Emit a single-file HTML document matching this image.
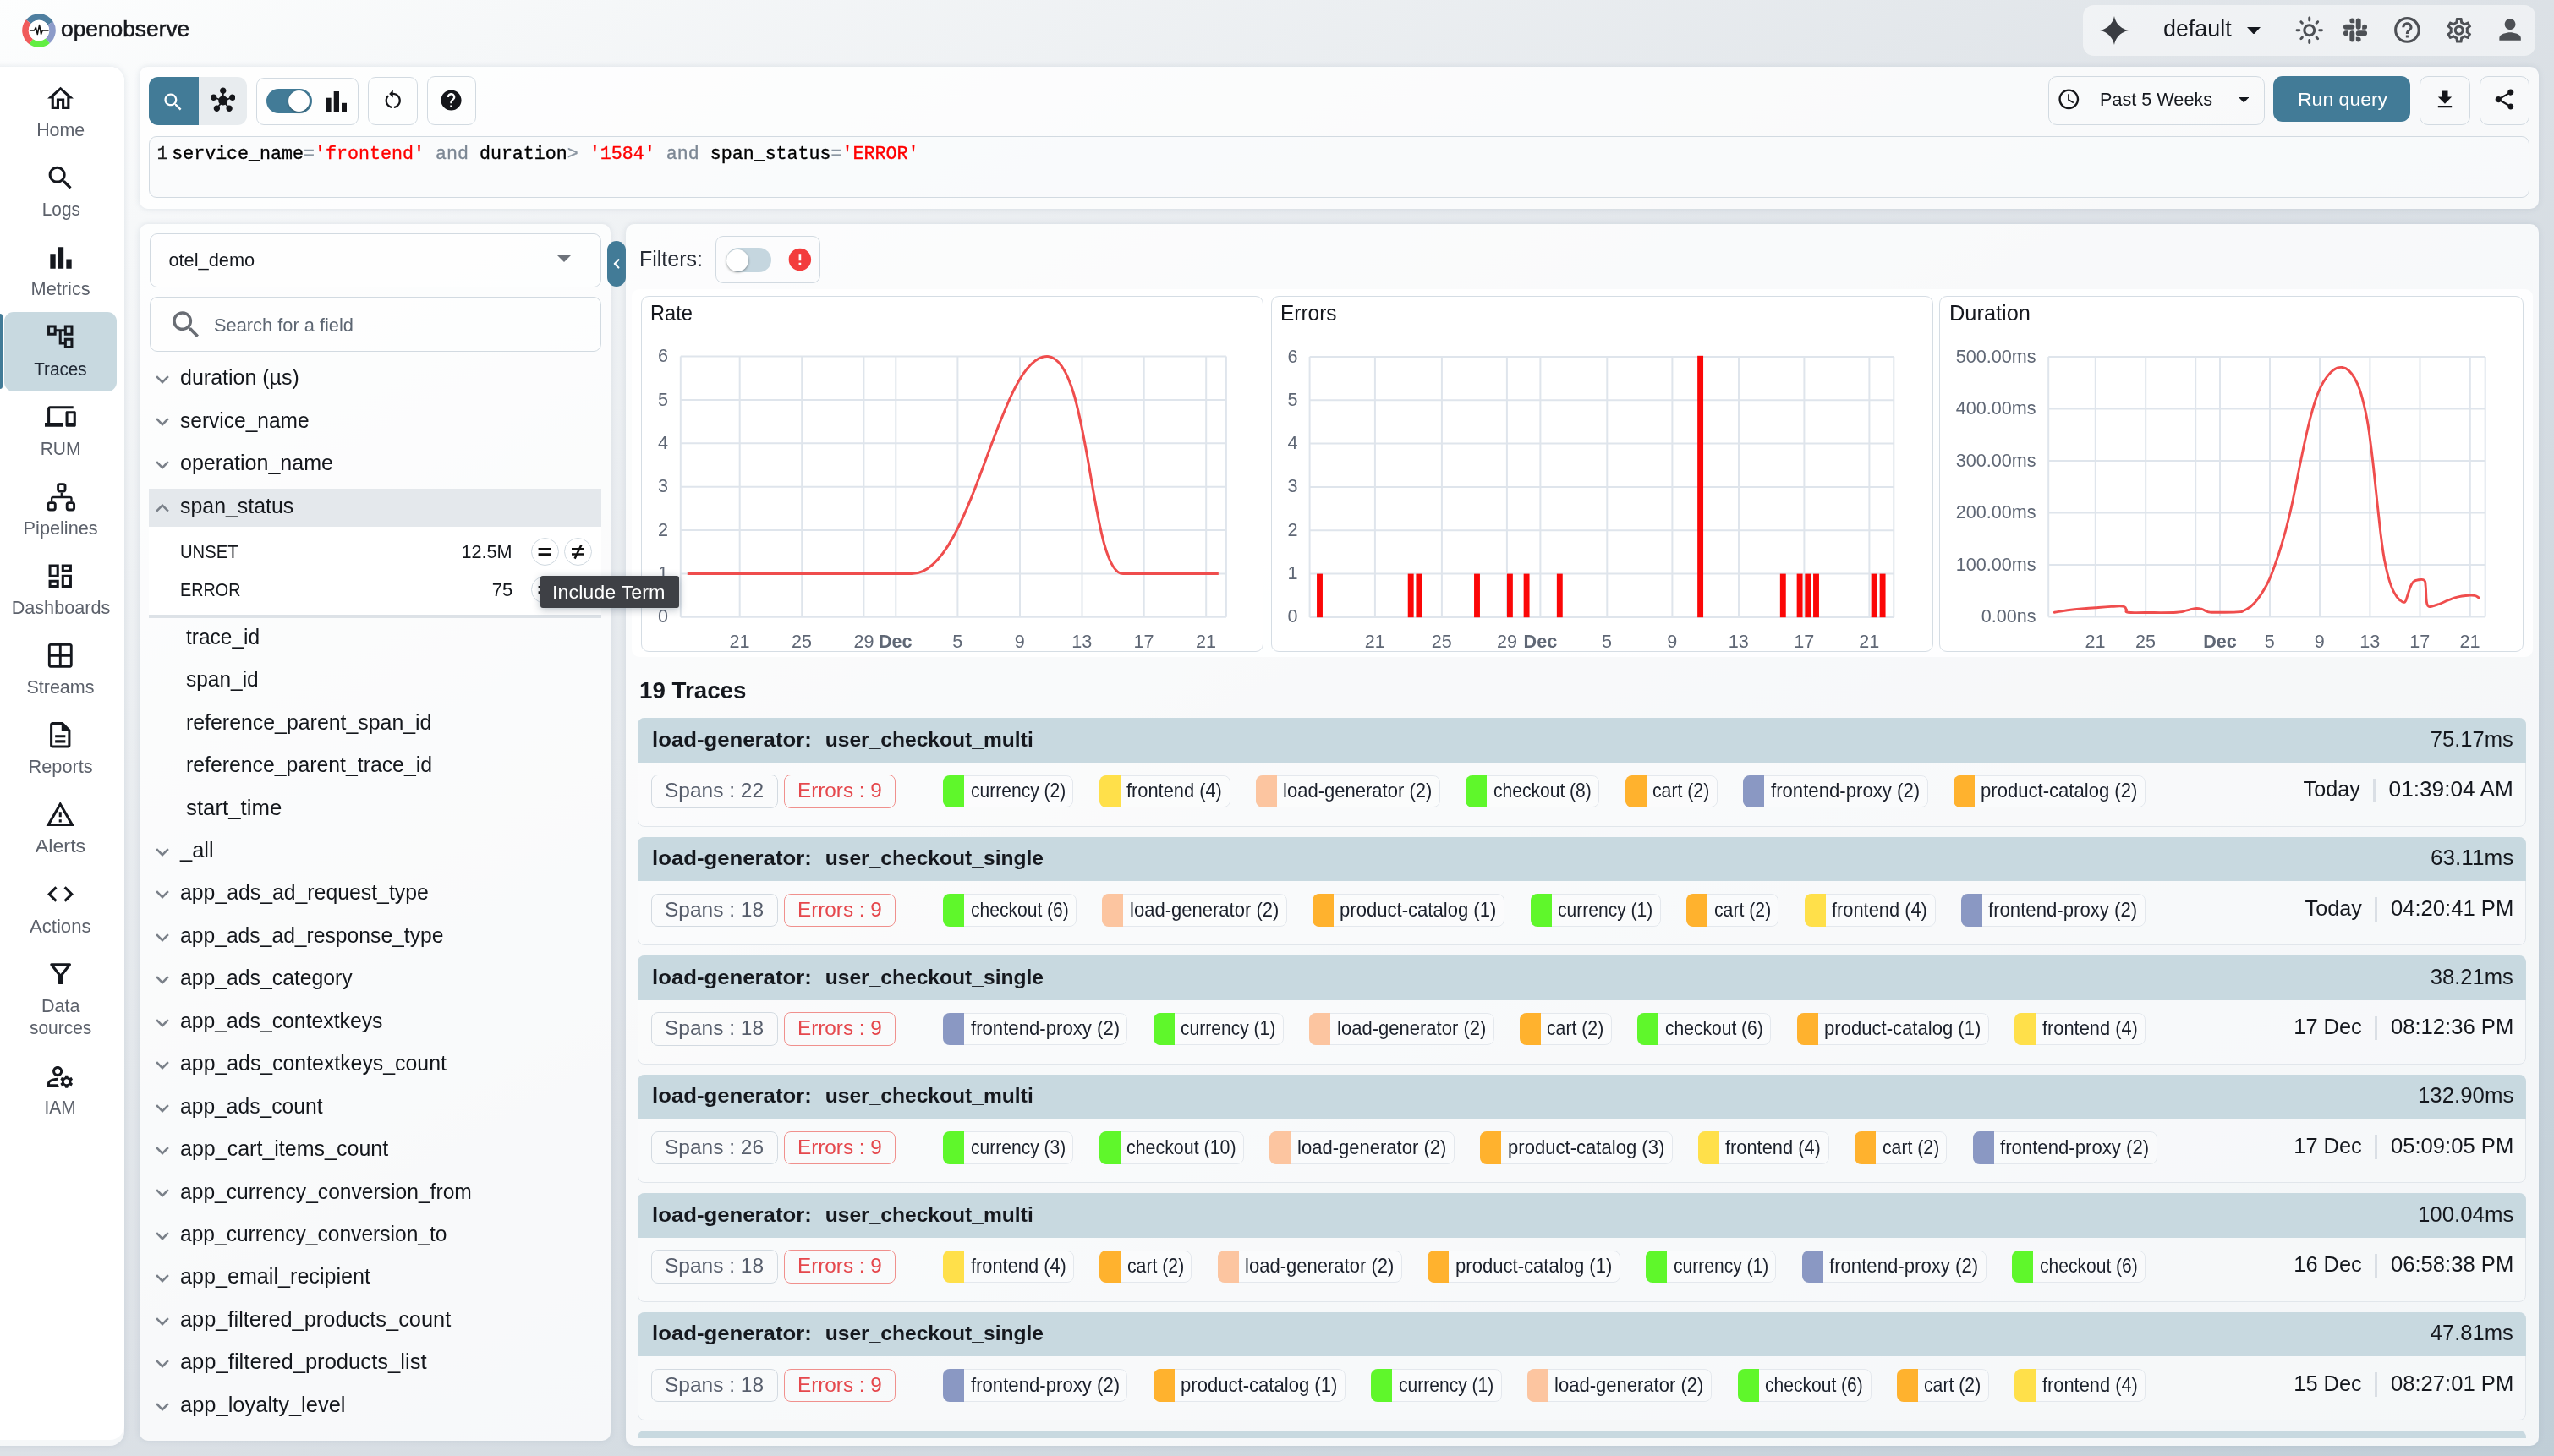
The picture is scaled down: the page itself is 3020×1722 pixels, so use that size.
<!DOCTYPE html>
<html lang="en"><head><meta charset="utf-8"><title>OpenObserve - Traces</title>
<style>
html,body{margin:0;padding:0}
body{width:3020px;height:1722px;overflow:hidden;position:relative;font-family:"Liberation Sans",sans-serif;
background:linear-gradient(to bottom right,#fdfefe 0%,#dce1e6 50%,#c0ced7 100%);}
div,svg,span.t{position:absolute;box-sizing:border-box}
span.t{white-space:pre;line-height:1;display:block}
.panel{background:rgba(255,255,255,.8);border-radius:10px;box-shadow:0 0 7px rgba(120,140,160,.2)}
.ob{border:1px solid #d2dae1;border-radius:9px}
@media (max-width:1600px){body{width:1510px;height:861px}#app{transform:scale(.5);transform-origin:0 0}}
</style></head><body>
<div id="app" style="left:0;top:0;width:3020px;height:1722px;will-change:transform">
<svg style="left:25.80px;top:15.80px;" width="40.00" height="40.00" viewBox="0 0 40 40"><path d="M4.83,7.27 A19.8,19.8 0 0 1 36.79,9.51 L30.35,13.53 A12.2,12.2 0 0 0 10.65,12.16 Z" fill="#4f7fa0"/><path d="M36.79,9.51 A19.8,19.8 0 0 1 32.73,35.17 L27.84,29.35 A12.2,12.2 0 0 0 30.35,13.53 Z" fill="#8c9bc9"/><path d="M32.73,35.17 A19.8,19.8 0 0 1 8.64,36.22 L13.00,29.99 A12.2,12.2 0 0 0 27.84,29.35 Z" fill="#62ee42"/><path d="M8.64,36.22 A19.8,19.8 0 0 1 4.83,7.27 L10.65,12.16 A12.2,12.2 0 0 0 13.00,29.99 Z" fill="#f05b5b"/><circle cx="20" cy="20" r="12.2" fill="#fff"/><path d="M9.5,20 H14.5 L16.3,16.2 L18.3,24.5 L20.6,13.5 L22.6,24.5 L24.2,20 H31" fill="none" stroke="#111" stroke-width="1.5" stroke-linejoin="round" stroke-linecap="round"/></svg>
<span class="t" style="font-size:25.6px;color:#16181d;top:22.00px;left:72.40px;transform-origin:0 0;transform:scaleX(1.0286);-webkit-text-stroke:0.6px #16181d;">openobserve</span>
<div style="left:2463.00px;top:6.00px;width:535.00px;height:60.00px;background:rgba(255,255,255,.5);border-radius:13px;"></div>
<svg style="left:2482.50px;top:18.90px;" width="34.00" height="34.00" viewBox="0 0 24 24"><path d="M12 0C13.2 6.27 17.73 10.8 24 12 17.73 13.2 13.2 17.73 12 24 10.8 17.73 6.27 13.2 0 12 6.27 10.8 10.8 6.27 12 0z" fill="#3a3d42"/></svg>
<span class="t" style="font-size:27.5px;color:#15181e;top:20.00px;left:2557.60px;transform-origin:0 0;transform:scaleX(0.9766);">default</span>
<svg style="left:2657.00px;top:31.60px;" width="16.00" height="8.60"><path d="M0,0 H16 L8,8.6 Z" fill="#15181e"/></svg>
<svg style="left:2712.95px;top:17.95px;" width="35.50" height="35.50" viewBox="0 0 24 24"><path d="M12 9c1.65 0 3 1.35 3 3s-1.35 3-3 3-3-1.35-3-3 1.35-3 3-3m0-2c-2.76 0-5 2.24-5 5s2.24 5 5 5 5-2.24 5-5-2.24-5-5-5zM2 13h2c.55 0 1-.45 1-1s-.45-1-1-1H2c-.55 0-1 .45-1 1s.45 1 1 1zm18 0h2c.55 0 1-.45 1-1s-.45-1-1-1h-2c-.55 0-1 .45-1 1s.45 1 1 1zM11 2v2c0 .55.45 1 1 1s1-.45 1-1V2c0-.55-.45-1-1-1s-1 .45-1 1zm0 18v2c0 .55.45 1 1 1s1-.45 1-1v-2c0-.55-.45-1-1-1s-1 .45-1 1zM5.99 4.58c-.39-.39-1.03-.39-1.41 0-.39.39-.39 1.03 0 1.41l1.06 1.06c.39.39 1.03.39 1.41 0s.39-1.03 0-1.41L5.99 4.58zm12.37 12.37c-.39-.39-1.03-.39-1.41 0-.39.39-.39 1.03 0 1.41l1.06 1.06c.39.39 1.03.39 1.41 0 .39-.39.39-1.03 0-1.41l-1.06-1.06zm1.06-10.96c.39-.39.39-1.03 0-1.41-.39-.39-1.03-.39-1.41 0l-1.06 1.06c-.39.39-.39 1.03 0 1.41s1.03.39 1.41 0l1.06-1.06zM7.05 18.36c.39-.39.39-1.03 0-1.41-.39-.39-1.03-.39-1.41 0l-1.06 1.06c-.39.39-.39 1.03 0 1.41s1.03.39 1.41 0l1.06-1.06z" fill="#4d5055"/></svg>
<svg style="left:2768.15px;top:17.15px;" width="35.50" height="35.50" viewBox="0 0 24 24"><path d="M6 15a2 2 0 0 1-2 2a2 2 0 0 1-2-2a2 2 0 0 1 2-2h2v2zm1 0a2 2 0 0 1 2-2a2 2 0 0 1 2 2v5a2 2 0 0 1-2 2a2 2 0 0 1-2-2v-5zm2-8a2 2 0 0 1-2-2a2 2 0 0 1 2-2a2 2 0 0 1 2 2v2H9zm0 1a2 2 0 0 1 2 2a2 2 0 0 1-2 2H4a2 2 0 0 1-2-2a2 2 0 0 1 2-2h5zm8 2a2 2 0 0 1 2-2a2 2 0 0 1 2 2a2 2 0 0 1-2 2h-2v-2zm-1 0a2 2 0 0 1-2 2a2 2 0 0 1-2-2V5a2 2 0 0 1 2-2a2 2 0 0 1 2 2v5zm-2 8a2 2 0 0 1 2 2a2 2 0 0 1-2 2a2 2 0 0 1-2-2v-2h2zm0-1a2 2 0 0 1-2-2a2 2 0 0 1 2-2h5a2 2 0 0 1 2 2a2 2 0 0 1-2 2h-5z" fill="#4d5055"/></svg>
<svg style="left:2828.30px;top:16.80px;" width="36.80" height="36.80" viewBox="0 0 24 24"><path d="M11 18h2v-2h-2v2zm1-16C6.48 2 2 6.48 2 12s4.48 10 10 10 10-4.48 10-10S17.52 2 12 2zm0 18c-4.41 0-8-3.59-8-8s3.59-8 8-8 8 3.59 8 8-3.59 8-8 8zm0-14c-2.21 0-4 1.79-4 4h2c0-1.1.9-2 2-2s2 .9 2 2c0 2-3 1.75-3 5h2c0-2.25 3-2.5 3-5 0-2.21-1.79-4-4-4z" fill="#4d5055"/></svg>
<svg style="left:2890.05px;top:18.25px;" width="35.50" height="35.50" viewBox="0 0 24 24"><path d="M19.43 12.98c.04-.32.07-.64.07-.98 0-.34-.03-.66-.07-.98l2.11-1.65c.19-.15.24-.42.12-.64l-2-3.46c-.09-.16-.26-.25-.44-.25-.06 0-.12.01-.17.03l-2.49 1c-.52-.4-1.08-.73-1.69-.98l-.38-2.65C14.46 2.18 14.25 2 14 2h-4c-.25 0-.46.18-.49.42l-.38 2.65c-.61.25-1.17.59-1.69.98l-2.49-1c-.06-.02-.12-.03-.18-.03-.17 0-.34.09-.43.25l-2 3.46c-.13.22-.07.49.12.64l2.11 1.65c-.04.32-.07.65-.07.98 0 .33.03.66.07.98l-2.11 1.65c-.19.15-.24.42-.12.64l2 3.46c.09.16.26.25.44.25.06 0 .12-.01.17-.03l2.49-1c.52.4 1.08.73 1.69.98l.38 2.65c.03.24.24.42.49.42h4c.25 0 .46-.18.49-.42l.38-2.65c.61-.25 1.17-.59 1.69-.98l2.49 1c.06.02.12.03.18.03.17 0 .34-.09.43-.25l2-3.46c.12-.22.07-.49-.12-.64l-2.11-1.65zm-1.98-1.71c.04.31.05.52.05.73 0 .21-.02.43-.05.73l-.14 1.13.89.7 1.08.84-.7 1.21-1.27-.51-1.04-.42-.9.68c-.43.32-.84.56-1.25.73l-1.06.43-.16 1.13-.2 1.35h-1.4l-.19-1.35-.16-1.13-1.06-.43c-.43-.18-.83-.41-1.23-.71l-.91-.7-1.06.43-1.27.51-.7-1.21 1.08-.84.89-.7-.14-1.13c-.03-.31-.05-.54-.05-.74s.02-.43.05-.73l.14-1.13-.89-.7-1.08-.84.7-1.21 1.27.51 1.04.42.9-.68c.43-.32.84-.56 1.25-.73l1.06-.43.16-1.13.2-1.35h1.39l.19 1.35.16 1.13 1.06.43c.43.18.83.41 1.23.71l.91.7 1.06-.43 1.27-.51.7 1.21-1.07.85-.89.7.14 1.13zM12 8c-2.21 0-4 1.79-4 4s1.79 4 4 4 4-1.790 4-4-1.790-4-4-4zm0 6c-1.100 0-2-.9-2-2s.9-2 2-2 2 .9 2 2-.9 2-2 2z" fill="#4d5055"/></svg>
<svg style="left:2949.40px;top:16.20px;" width="38.20" height="38.20" viewBox="0 0 24 24"><path d="M12 12c2.21 0 4-1.79 4-4s-1.79-4-4-4-4 1.79-4 4 1.79 4 4 4zm0 2c-2.67 0-8 1.34-8 4v2h16v-2c0-2.66-5.33-4-8-4z" fill="#4d5055"/></svg>
<div class="panel" style="left:-20.00px;top:79.00px;width:167.00px;height:1631.00px;border-radius:0 17px 17px 0;background:rgba(255,255,255,.72);"></div>
<div style="left:-20.00px;top:79.00px;width:167.00px;height:1624.00px;border-radius:0 17px 17px 0;background:#fff;"></div>
<div style="left:5.00px;top:369.00px;width:133.00px;height:94.00px;background:#c8d9e0;border-radius:11px;"></div>
<div style="left:0.00px;top:371.00px;width:3.00px;height:89.00px;background:#427b97;border-radius:0 3px 3px 0;"></div>
<svg style="left:53.15px;top:97.65px;" width="37.10" height="37.10" viewBox="0 0 24 24"><path d="M12 5.69l5 4.5V18h-2v-6H9v6H7v-7.81l5-4.5M12 3L2 12h3v8h6v-6h2v6h6v-8h3L12 3z" fill="#15181e"/></svg>
<span class="t" style="font-size:21.5px;color:#5c616b;top:144.00px;left:43.25px;transform-origin:50% 0;transform:scaleX(0.9947);">Home</span>
<svg style="left:53.00px;top:191.85px;" width="37.00" height="37.00" viewBox="0 0 24 24"><path d="M15.5 14h-.79l-.28-.27C15.41 12.59 16 11.11 16 9.5 16 5.91 13.09 3 9.5 3S3 5.91 3 9.5 5.91 16 9.5 16c1.61 0 3.09-.59 4.23-1.57l.27.28v.79l5 4.99L20.49 19l-4.99-5zm-6 0C7.01 14 5 11.99 5 9.5S7.01 5 9.5 5 14 7.01 14 9.5 11.99 14 9.5 14z" fill="#15181e"/></svg>
<span class="t" style="font-size:21.5px;color:#5c616b;top:238.00px;left:48.72px;transform-origin:50% 0;transform:scaleX(0.9667);">Logs</span>
<svg style="left:52.70px;top:285.50px;" width="38.00" height="38.00" viewBox="0 0 24 24"><path d="M4 9h4v11H4zm12 4h4v7h-4zm-6-9h4v16h-4z" fill="#15181e"/></svg>
<span class="t" style="font-size:21.5px;color:#5c616b;top:332.00px;left:36.79px;transform-origin:50% 0;transform:scaleX(1.0140);">Metrics</span>
<svg style="left:53.45px;top:380.40px;" width="36.50" height="36.50" viewBox="0 0 24 24"><path d="M22 11V3h-7v3H9V3H2v8h7V8h2v10h4v3h7v-8h-7v3h-2V8h2v3h7zM7 9H4V5h3v4zm10 6h3v4h-3v-4zm0-10h3v4h-3V5z" fill="#15181e"/></svg>
<span class="t" style="font-size:21.5px;color:#1f2733;top:427.00px;left:38.99px;transform-origin:50% 0;transform:scaleX(0.9626);">Traces</span>
<svg style="left:53.30px;top:474.40px;" width="36.80" height="36.80" viewBox="0 0 24 24"><path d="M4 6h18V4H4c-1.1 0-2 .9-2 2v11H0v3h14v-3H4V6zm19 2h-6c-.55 0-1 .45-1 1v10c0 .55.45 1 1 1h6c.55 0 1-.45 1-1V9c0-.55-.45-1-1-1zm-1 9h-4v-7h4v7z" fill="#15181e"/></svg>
<span class="t" style="font-size:21.5px;color:#5c616b;top:521.00px;left:46.94px;transform-origin:50% 0;transform:scaleX(0.9732);">RUM</span>
<svg style="left:52.00px;top:568.00px;" width="40.00" height="40.00"><g fill="none" stroke="#15181e"><rect x="16.6" y="4.6" width="8.4" height="8.4" rx="2.2" stroke-width="2.9"/><rect x="4.9" y="26.6" width="8.4" height="8.4" rx="2.2" stroke-width="2.9"/><rect x="27.2" y="26.6" width="8.4" height="8.4" rx="2.2" stroke-width="2.9"/><path d="M20.8,14.4 V20 M9.1,25.4 V21.8 Q9.1,20 10.9,20 H30.7 Q32.500,20 32.500,21.800 V25.400" stroke-width="2.3"/></g></svg>
<span class="t" style="font-size:21.5px;color:#5c616b;top:615.00px;left:27.80px;transform-origin:50% 0;transform:scaleX(1.0093);">Pipelines</span>
<svg style="left:53.45px;top:662.85px;" width="36.50" height="36.50" viewBox="0 0 24 24"><path d="M19 5v2h-4V5h4M9 5v6H5V5h4m10 8v6h-4v-6h4M9 17v2H5v-2h4M21 3h-8v6h8V3zM11 3H3v10h8V3zm10 8h-8v10h8V11zm-10 4H3v6h8v-6z" fill="#15181e"/></svg>
<span class="t" style="font-size:21.5px;color:#5c616b;top:709.00px;left:13.76px;transform-origin:50% 0;transform:scaleX(1.0062);">Dashboards</span>
<svg style="left:54.40px;top:757.95px;" width="34.60" height="34.60" viewBox="0 0 24 24"><path d="M20 2H4c-1.1 0-2 .9-2 2v16c0 1.1.9 2 2 2h16c1.1 0 2-.9 2-2V4c0-1.1-.9-2-2-2zm0 9h-7V4h7v7zm-9-7v7H4V4h7zm-7 9h7v7H4v-7zm9 7v-7h7v7h-7z" fill="#15181e"/></svg>
<span class="t" style="font-size:21.5px;color:#5c616b;top:803.00px;left:31.41px;transform-origin:50% 0;">Streams</span>
<svg style="left:53.45px;top:851.15px;" width="36.50" height="36.50" viewBox="0 0 24 24"><path d="M8 16h8v2H8zm0-4h8v2H8zm6-10H6c-1.1 0-2 .9-2 2v16c0 1.1.89 2 1.99 2H18c1.1 0 2-.9 2-2V8l-6-6zm4 18H6V4h7v5h5v11z" fill="#15181e"/></svg>
<span class="t" style="font-size:21.5px;color:#5c616b;top:897.00px;left:33.78px;transform-origin:50% 0;transform:scaleX(1.0126);">Reports</span>
<svg style="left:53.45px;top:945.30px;" width="36.50" height="36.50" viewBox="0 0 24 24"><path d="M12 5.99L19.53 19H4.47L12 5.99M12 2L1 21h22L12 2zm1 14h-2v2h2v-2zm0-6h-2v4h2v-4z" fill="#15181e"/></svg>
<span class="t" style="font-size:21.5px;color:#5c616b;top:991.00px;left:43.98px;transform-origin:50% 0;transform:scaleX(1.0831);">Alerts</span>
<svg style="left:53.20px;top:1039.20px;" width="37.00" height="37.00" viewBox="0 0 24 24"><path d="M9.4 16.6L4.8 12l4.6-4.6L8 6l-6 6 6 6 1.4-1.4zm5.2 0l4.6-4.6-4.6-4.6L16 6l6 6-6 6-1.4-1.4z" fill="#15181e"/></svg>
<span class="t" style="font-size:21.5px;color:#5c616b;top:1086.00px;left:36.14px;transform-origin:50% 0;transform:scaleX(1.0295);">Actions</span>
<svg style="left:52.65px;top:1133.20px;" width="37.30" height="37.30" viewBox="0 0 24 24"><path d="M7 6h10l-5.01 6.3L7 6zm-2.75-.39C6.27 8.2 10 13 10 13v6c0 .55.45 1 1 1h2c.55 0 1-.45 1-1v-6s3.72-4.8 5.74-7.39c.51-.66.04-1.61-.79-1.61H5.04c-.83 0-1.3.95-.79 1.61z" fill="#15181e"/></svg>
<span class="t" style="font-size:21.5px;color:#5c616b;top:1180.00px;left:48.96px;transform-origin:50% 0;">Data</span>
<span class="t" style="font-size:21.5px;color:#5c616b;top:1206.00px;left:33.97px;transform-origin:50% 0;transform:scaleX(0.9754);">sources</span>
<svg style="left:53.05px;top:1254.55px;" width="36.30" height="36.30" viewBox="0 0 24 24"><path d="M4 18v-.65c0-.34.16-.66.41-.81C6.1 15.53 8.03 15 10 15c.03 0 .05 0 .08.01.1-.7.3-1.37.59-1.98-.22-.02-.44-.03-.67-.03-2.42 0-4.68.67-6.61 1.82-.88.52-1.39 1.5-1.39 2.53V20h9.26c-.42-.6-.75-1.28-.97-2H4zm6-6c2.21 0 4-1.79 4-4s-1.79-4-4-4-4 1.79-4 4 1.79 4 4 4zm0-6c1.1 0 2 .9 2 2s-.9 2-2 2-2-.9-2-2 .9-2 2-2zm10.75 10c0-.22-.03-.42-.06-.63l1.14-1.01-1-1.73-1.45.49c-.32-.27-.68-.48-1.08-.63L18 11h-2l-.3 1.49c-.4.15-.76.36-1.08.63l-1.45-.49-1 1.73 1.14 1.01c-.03.21-.06.41-.06.63s.03.42.06.63l-1.14 1.01 1 1.73 1.45-.49c.32.27.68.48 1.08.63L16 21h2l.3-1.49c.4-.15.76-.36 1.08-.63l1.45.49 1-1.73-1.14-1.01c.03-.21.06-.41.06-.63zM17 18c-1.1 0-2-.9-2-2s.9-2 2-2 2 .9 2 2-.9 2-2 2z" fill="#15181e"/></svg>
<span class="t" style="font-size:21.5px;color:#5c616b;top:1300.00px;left:52.32px;transform-origin:50% 0;transform:scaleX(0.9747);">IAM</span>
<div class="panel" style="left:165.00px;top:79.00px;width:2837.00px;height:168.00px;"></div>
<div style="left:176.00px;top:91.00px;width:59.00px;height:57.00px;background:#427b97;border-radius:11px 0 0 11px;"></div>
<div style="left:235.00px;top:91.00px;width:57.00px;height:57.00px;background:#e8ecef;border-radius:0 11px 11px 0;"></div>
<svg style="left:190.85px;top:106.85px;" width="27.50" height="27.50" viewBox="0 0 24 24"><path d="M15.5 14h-.79l-.28-.27C15.41 12.59 16 11.11 16 9.5 16 5.91 13.09 3 9.5 3S3 5.91 3 9.5 5.91 16 9.5 16c1.61 0 3.09-.59 4.23-1.57l.27.28v.79l5 4.99L20.49 19l-4.99-5zm-6 0C7.01 14 5 11.99 5 9.5S7.01 5 9.5 5 14 7.01 14 9.5 11.99 14 9.5 14z" fill="#fff"/></svg>
<svg style="left:248.65px;top:103.25px;" width="29.50" height="29.50" viewBox="0 -0.5 24 24"><path d="M8.4 18.2c.38.5.6 1.12.6 1.8 0 1.66-1.34 3-3 3s-3-1.34-3-3 1.34-3 3-3c.44 0 .85.09 1.23.26l1.41-1.77c-.92-1.03-1.29-2.39-1.09-3.69l-2.03-.68C4.98 11.95 4.06 12.5 3 12.5c-1.66 0-3-1.34-3-3s1.34-3 3-3 3 1.34 3 3c0 .07 0 .14-.01.21l2.03.68c.64-1.21 1.82-2.09 3.22-2.32V5.91C9.96 5.57 9 4.4 9 3c0-1.66 1.34-3 3-3s3 1.34 3 3c0 1.4-.96 2.57-2.25 2.91v2.16c1.4.23 2.58 1.11 3.22 2.32l2.030-.68C18 9.640 18 9.570 18 9.5c0-1.660 1.340-3 3-3s3 1.340 3 3-1.340 3-3 3c-1.060 0-1.980-.55-2.520-1.370l-2.030.68c.2 1.290-.16 2.650-1.090 3.690l1.410 1.770c.38-.17.790-.26 1.230-.26 1.660 0 3 1.340 3 3s-1.340 3-3 3-3-1.340-3-3c0-.68.220-1.300.6-1.800l-1.410-1.770c-1.360.76-3.020.75-4.370 0l-1.420 1.770z" fill="#15161a"/></svg>
<div class="ob" style="left:303.00px;top:92.00px;width:121.00px;height:56.00px;"></div>
<div style="left:315.00px;top:105.00px;width:54.00px;height:29.00px;background:#427b97;border-radius:15px;"></div>
<div style="left:341.00px;top:107.00px;width:25.00px;height:25.00px;background:#fff;border-radius:50%;box-shadow:0 1px 3px rgba(0,0,0,.35);"></div>
<svg style="left:386.00px;top:108.00px;" width="24.00" height="24.00"><rect x="0" y="7.7" width="5.6" height="16.3" fill="#15161a"/><rect x="8.7" y="0" width="6.3" height="24" fill="#15161a"/><rect x="18" y="13.8" width="6" height="10.2" fill="#15161a"/></svg>
<div class="ob" style="left:435.00px;top:91.00px;width:59.00px;height:57.00px;"></div>
<svg style="left:450.65px;top:103.85px;" width="27.50" height="27.50" viewBox="0 0 24 24"><path d="M12 5V2L8 6l4 4V7c3.31 0 6 2.69 6 6 0 2.97-2.17 5.43-5 5.91v2.02c3.95-.49 7-3.85 7-7.93 0-4.42-3.58-8-8-8zm-6 8c0-1.65.67-3.15 1.76-4.24L6.34 7.34C4.9 8.79 4 10.79 4 13c0 4.08 3.05 7.44 7 7.93v-2.02c-2.83-.48-5-2.94-5-5.91z" fill="#15161a"/></svg>
<div class="ob" style="left:505.00px;top:90.00px;width:58.00px;height:58.00px;"></div>
<svg style="left:519.20px;top:103.90px;" width="29.00" height="29.00" viewBox="0 0 24 24"><path d="M12 2C6.48 2 2 6.48 2 12s4.48 10 10 10 10-4.48 10-10S17.52 2 12 2zm1 17h-2v-2h2v2zm2.07-7.75l-.9.92C13.45 12.9 13 13.5 13 15h-2v-.5c0-1.1.45-2.1 1.17-2.83l1.24-1.26c.37-.36.59-.86.59-1.41 0-1.1-.9-2-2-2s-2 .9-2 2H8c0-2.21 1.79-4 4-4s4 1.79 4 4c0 .88-.36 1.68-.93 2.25z" fill="#15161a"/></svg>
<div class="ob" style="left:2422.00px;top:90.00px;width:256.00px;height:58.00px;border-radius:10px;"></div>
<svg style="left:2432.30px;top:103.30px;" width="28.60" height="28.60" viewBox="0 0 24 24"><path d="M11.99 2C6.47 2 2 6.48 2 12s4.47 10 9.99 10C17.52 22 22 17.52 22 12S17.52 2 11.99 2zM12 20c-4.42 0-8-3.58-8-8s3.58-8 8-8 8 3.58 8 8-3.58 8-8 8zm.5-13H11v6l5.25 3.15.75-1.23-4.5-2.67z" fill="#15161a"/></svg>
<span class="t" style="font-size:21.2px;color:#15181e;top:107.00px;left:2483.30px;transform-origin:0 0;transform:scaleX(1.0209);">Past 5 Weeks</span>
<svg style="left:2647.00px;top:115.00px;" width="12.40" height="6.40"><path d="M0,0 H12.4 L6.2,6.4 Z" fill="#15181e"/></svg>
<div style="left:2688.00px;top:90.00px;width:162.00px;height:54.00px;background:#427b97;border-radius:11px;"></div>
<span class="t" style="font-size:22.4px;color:#fff;top:107.00px;left:2716.70px;transform-origin:0 0;transform:scaleX(1.0273);">Run query</span>
<div class="ob" style="left:2861.00px;top:90.00px;width:60.00px;height:58.00px;border-radius:10px;"></div>
<svg style="left:2876.90px;top:104.30px;" width="28.00" height="28.00" viewBox="0 0 24 24"><path d="M19 9h-4V3H9v6H5l7 7 7-7zM5 18v2h14v-2H5z" fill="#15161a"/></svg>
<div class="ob" style="left:2932.00px;top:90.00px;width:59.00px;height:58.00px;border-radius:10px;"></div>
<svg style="left:2947.00px;top:103.10px;" width="29.00" height="29.00" viewBox="0 0 24 24"><path d="M18 16.08c-.76 0-1.44.3-1.96.77L8.91 12.7c.05-.23.09-.46.09-.7s-.04-.47-.09-.7l7.05-4.11c.54.5 1.25.81 2.04.81 1.66 0 3-1.34 3-3s-1.34-3-3-3-3 1.34-3 3c0 .24.04.47.09.7L8.04 9.81C7.5 9.31 6.79 9 6 9c-1.66 0-3 1.34-3 3s1.34 3 3 3c.79 0 1.5-.31 2.04-.81l7.12 4.16c-.05.21-.08.43-.08.65 0 1.61 1.31 2.92 2.92 2.92 1.61 0 2.92-1.31 2.92-2.92s-1.31-2.92-2.92-2.92z" fill="#15161a"/></svg>
<div class="ob" style="left:176.00px;top:161.00px;width:2815.00px;height:73.00px;background:rgba(248,249,251,.7);"></div>
<span class="t" style="font-size:21.65px;color:#222;top:172.00px;font-family:'Liberation Mono',monospace;left:185.60px;transform-origin:0 0;-webkit-text-stroke:0.3px #222;">1</span>
<span class="t" style="font-size:21.65px;color:#000;top:172.00px;font-family:'Liberation Mono',monospace;left:203.20px;transform-origin:0 0;-webkit-text-stroke:0.35px #000;">service_name</span>
<span class="t" style="font-size:21.65px;color:#8b96a2;top:172.00px;font-family:'Liberation Mono',monospace;left:359.08px;transform-origin:0 0;-webkit-text-stroke:0.35px #8b96a2;">=</span>
<span class="t" style="font-size:21.65px;color:#ff0000;top:172.00px;font-family:'Liberation Mono',monospace;left:372.07px;transform-origin:0 0;-webkit-text-stroke:0.35px #ff0000;">'frontend'</span>
<span class="t" style="font-size:21.65px;color:#000;top:172.00px;font-family:'Liberation Mono',monospace;left:501.97px;transform-origin:0 0;-webkit-text-stroke:0.35px #000;"> </span>
<span class="t" style="font-size:21.65px;color:#7c8794;top:172.00px;font-family:'Liberation Mono',monospace;left:514.96px;transform-origin:0 0;-webkit-text-stroke:0.35px #7c8794;">and</span>
<span class="t" style="font-size:21.65px;color:#000;top:172.00px;font-family:'Liberation Mono',monospace;left:553.93px;transform-origin:0 0;-webkit-text-stroke:0.35px #000;"> </span>
<span class="t" style="font-size:21.65px;color:#000;top:172.00px;font-family:'Liberation Mono',monospace;left:566.92px;transform-origin:0 0;-webkit-text-stroke:0.35px #000;">duration</span>
<span class="t" style="font-size:21.65px;color:#8b96a2;top:172.00px;font-family:'Liberation Mono',monospace;left:670.84px;transform-origin:0 0;-webkit-text-stroke:0.35px #8b96a2;">&gt;</span>
<span class="t" style="font-size:21.65px;color:#000;top:172.00px;font-family:'Liberation Mono',monospace;left:683.83px;transform-origin:0 0;-webkit-text-stroke:0.35px #000;"> </span>
<span class="t" style="font-size:21.65px;color:#ff0000;top:172.00px;font-family:'Liberation Mono',monospace;left:696.82px;transform-origin:0 0;-webkit-text-stroke:0.35px #ff0000;">'1584'</span>
<span class="t" style="font-size:21.65px;color:#000;top:172.00px;font-family:'Liberation Mono',monospace;left:774.76px;transform-origin:0 0;-webkit-text-stroke:0.35px #000;"> </span>
<span class="t" style="font-size:21.65px;color:#7c8794;top:172.00px;font-family:'Liberation Mono',monospace;left:787.75px;transform-origin:0 0;-webkit-text-stroke:0.35px #7c8794;">and</span>
<span class="t" style="font-size:21.65px;color:#000;top:172.00px;font-family:'Liberation Mono',monospace;left:826.72px;transform-origin:0 0;-webkit-text-stroke:0.35px #000;"> </span>
<span class="t" style="font-size:21.65px;color:#000;top:172.00px;font-family:'Liberation Mono',monospace;left:839.71px;transform-origin:0 0;-webkit-text-stroke:0.35px #000;">span_status</span>
<span class="t" style="font-size:21.65px;color:#8b96a2;top:172.00px;font-family:'Liberation Mono',monospace;left:982.60px;transform-origin:0 0;-webkit-text-stroke:0.35px #8b96a2;">=</span>
<span class="t" style="font-size:21.65px;color:#ff0000;top:172.00px;font-family:'Liberation Mono',monospace;left:995.59px;transform-origin:0 0;-webkit-text-stroke:0.35px #ff0000;">'ERROR'</span>
<div class="panel" style="left:165.00px;top:265.00px;width:557.00px;height:1439.00px;"></div>
<div class="ob" style="left:177.00px;top:276.00px;width:534.00px;height:64.00px;background:rgba(255,255,255,.35);"></div>
<span class="t" style="font-size:21.8px;color:#15181e;top:297.00px;left:199.40px;transform-origin:0 0;">otel_demo</span>
<svg style="left:657.70px;top:300.60px;" width="18.00" height="9.00"><path d="M0,0 H18 L9,9 Z" fill="#6d727a"/></svg>
<div class="ob" style="left:177.00px;top:351.00px;width:534.00px;height:65.00px;background:rgba(255,255,255,.35);"></div>
<svg style="left:198.80px;top:362.90px;" width="42.20" height="42.20" viewBox="0 0 24 24"><path d="M15.5 14h-.79l-.28-.27C15.41 12.59 16 11.11 16 9.5 16 5.91 13.09 3 9.5 3S3 5.91 3 9.5 5.91 16 9.5 16c1.61 0 3.09-.59 4.23-1.57l.27.28v.79l5 4.99L20.49 19l-4.99-5zm-6 0C7.01 14 5 11.99 5 9.5S7.01 5 9.5 5 14 7.01 14 9.5 11.99 14 9.5 14z" fill="#696d74"/></svg>
<span class="t" style="font-size:22.4px;color:#5d6672;top:374.00px;left:253.40px;transform-origin:0 0;transform:scaleX(0.9743);">Search for a field</span>
<div style="left:718.00px;top:285.00px;width:22.00px;height:54.00px;background:#427b97;border-radius:11px;"></div>
<svg style="left:724.90px;top:306.00px;" width="8.00" height="12.00"><path d="M6.4,1.2 L1.8,5.9 L6.4,10.6" fill="none" stroke="#fff" stroke-width="2.1" stroke-linecap="round" stroke-linejoin="round"/></svg>
<svg style="left:184.10px;top:444.10px;" width="16.00" height="10.00"><path d="M1.1,1.2 L8,8.1 L14.9,1.2" fill="none" stroke="#7a8089" stroke-width="2.6" stroke-linecap="butt" stroke-linejoin="miter"/></svg>
<span class="t" style="font-size:25.6px;color:#14171c;top:434.00px;left:212.90px;transform-origin:0 0;transform:scaleX(0.9767);">duration (µs)</span>
<svg style="left:184.10px;top:494.40px;" width="16.00" height="10.00"><path d="M1.1,1.2 L8,8.1 L14.9,1.2" fill="none" stroke="#7a8089" stroke-width="2.6" stroke-linecap="butt" stroke-linejoin="miter"/></svg>
<span class="t" style="font-size:25.6px;color:#14171c;top:485.00px;left:212.90px;transform-origin:0 0;transform:scaleX(0.9582);">service_name</span>
<svg style="left:184.10px;top:544.60px;" width="16.00" height="10.00"><path d="M1.1,1.2 L8,8.1 L14.9,1.2" fill="none" stroke="#7a8089" stroke-width="2.6" stroke-linecap="butt" stroke-linejoin="miter"/></svg>
<span class="t" style="font-size:25.6px;color:#14171c;top:535.00px;left:212.90px;transform-origin:0 0;transform:scaleX(0.9785);">operation_name</span>
<div style="left:176.00px;top:578.00px;width:535.00px;height:45.00px;background:#e4e8ec;"></div>
<svg style="left:184.10px;top:595.90px;" width="16.00" height="10.00"><path d="M1.1,8.6 L8,1.7 L14.9,8.6" fill="none" stroke="#7a8089" stroke-width="2.6" stroke-linecap="butt" stroke-linejoin="miter"/></svg>
<span class="t" style="font-size:25.6px;color:#14171c;top:586.00px;left:212.90px;transform-origin:0 0;transform:scaleX(0.9731);">span_status</span>
<div style="left:176.00px;top:623.00px;width:535.00px;height:104.00px;background:#fff;"></div>
<div style="left:176.00px;top:727.00px;width:535.00px;height:4.00px;background:#dde2e7;"></div>
<span class="t" style="font-size:21.8px;color:#14171c;top:642.00px;left:212.80px;transform-origin:0 0;transform:scaleX(0.9269);">UNSET</span>
<span class="t" style="font-size:21.8px;color:#14171c;top:642.00px;left:545.10px;transform-origin:100% 0;transform:scaleX(0.9933);">12.5M</span>
<span class="t" style="font-size:21.8px;color:#14171c;top:687.00px;left:212.80px;transform-origin:0 0;transform:scaleX(0.9073);">ERROR</span>
<span class="t" style="font-size:21.8px;color:#14171c;top:687.00px;left:581.50px;transform-origin:100% 0;transform:scaleX(1.0083);">75</span>
<svg style="left:627.70px;top:635.90px;" width="33.00" height="33.00" viewBox="0 0 33 33"><circle cx="16.5" cy="16.5" r="16" fill="#fff" stroke="#cfd8df" stroke-width="1"/><path d="M8.6,13.3 H24 M8.6,19.6 H24" stroke="#111" stroke-width="2.6" fill="none"/></svg>
<svg style="left:667.20px;top:635.90px;" width="33.00" height="33.00" viewBox="0 0 33 33"><circle cx="16.5" cy="16.5" r="16" fill="#fff" stroke="#cfd8df" stroke-width="1"/><path d="M9,13.2 H23.6 M9,19.6 H23.6 M20.4,8.5 L12.6,24.6" stroke="#111" stroke-width="2.5" fill="none"/></svg>
<svg style="left:627.70px;top:680.70px;" width="33.00" height="33.00" viewBox="0 0 33 33"><circle cx="16.5" cy="16.5" r="16" fill="#fff" stroke="#cfd8df" stroke-width="1"/><path d="M8.6,13.3 H24 M8.6,19.6 H24" stroke="#111" stroke-width="2.6" fill="none"/></svg>
<span class="t" style="font-size:25.6px;color:#14171c;top:741.00px;left:219.90px;transform-origin:0 0;transform:scaleX(0.9568);">trace_id</span>
<span class="t" style="font-size:25.6px;color:#14171c;top:791.00px;left:219.90px;transform-origin:0 0;transform:scaleX(0.9562);">span_id</span>
<span class="t" style="font-size:25.6px;color:#14171c;top:842.00px;left:219.90px;transform-origin:0 0;transform:scaleX(0.9720);">reference_parent_span_id</span>
<span class="t" style="font-size:25.6px;color:#14171c;top:892.00px;left:219.90px;transform-origin:0 0;transform:scaleX(0.9694);">reference_parent_trace_id</span>
<span class="t" style="font-size:25.6px;color:#14171c;top:943.00px;left:219.90px;transform-origin:0 0;transform:scaleX(1.0090);">start_time</span>
<svg style="left:184.10px;top:1002.85px;" width="16.00" height="10.00"><path d="M1.1,1.2 L8,8.1 L14.9,1.2" fill="none" stroke="#7a8089" stroke-width="2.6" stroke-linecap="butt" stroke-linejoin="miter"/></svg>
<span class="t" style="font-size:25.6px;color:#14171c;top:993.00px;left:213.41px;transform-origin:0 0;transform:scaleX(0.9945);">_all</span>
<svg style="left:184.10px;top:1053.30px;" width="16.00" height="10.00"><path d="M1.1,1.2 L8,8.1 L14.9,1.2" fill="none" stroke="#7a8089" stroke-width="2.6" stroke-linecap="butt" stroke-linejoin="miter"/></svg>
<span class="t" style="font-size:25.6px;color:#14171c;top:1043.00px;left:212.90px;transform-origin:0 0;transform:scaleX(0.9692);">app_ads_ad_request_type</span>
<svg style="left:184.10px;top:1103.75px;" width="16.00" height="10.00"><path d="M1.1,1.2 L8,8.1 L14.9,1.2" fill="none" stroke="#7a8089" stroke-width="2.6" stroke-linecap="butt" stroke-linejoin="miter"/></svg>
<span class="t" style="font-size:25.6px;color:#14171c;top:1094.00px;left:212.90px;transform-origin:0 0;transform:scaleX(0.9642);">app_ads_ad_response_type</span>
<svg style="left:184.10px;top:1154.20px;" width="16.00" height="10.00"><path d="M1.1,1.2 L8,8.1 L14.9,1.2" fill="none" stroke="#7a8089" stroke-width="2.6" stroke-linecap="butt" stroke-linejoin="miter"/></svg>
<span class="t" style="font-size:25.6px;color:#14171c;top:1144.00px;left:212.90px;transform-origin:0 0;transform:scaleX(0.9673);">app_ads_category</span>
<svg style="left:184.10px;top:1204.65px;" width="16.00" height="10.00"><path d="M1.1,1.2 L8,8.1 L14.9,1.2" fill="none" stroke="#7a8089" stroke-width="2.6" stroke-linecap="butt" stroke-linejoin="miter"/></svg>
<span class="t" style="font-size:25.6px;color:#14171c;top:1195.00px;left:212.90px;transform-origin:0 0;transform:scaleX(0.9670);">app_ads_contextkeys</span>
<svg style="left:184.10px;top:1255.10px;" width="16.00" height="10.00"><path d="M1.1,1.2 L8,8.1 L14.9,1.2" fill="none" stroke="#7a8089" stroke-width="2.6" stroke-linecap="butt" stroke-linejoin="miter"/></svg>
<span class="t" style="font-size:25.6px;color:#14171c;top:1245.00px;left:212.90px;transform-origin:0 0;transform:scaleX(0.9705);">app_ads_contextkeys_count</span>
<svg style="left:184.10px;top:1305.55px;" width="16.00" height="10.00"><path d="M1.1,1.2 L8,8.1 L14.9,1.2" fill="none" stroke="#7a8089" stroke-width="2.6" stroke-linecap="butt" stroke-linejoin="miter"/></svg>
<span class="t" style="font-size:25.6px;color:#14171c;top:1296.00px;left:212.90px;transform-origin:0 0;transform:scaleX(0.9629);">app_ads_count</span>
<svg style="left:184.10px;top:1356.00px;" width="16.00" height="10.00"><path d="M1.1,1.2 L8,8.1 L14.9,1.2" fill="none" stroke="#7a8089" stroke-width="2.6" stroke-linecap="butt" stroke-linejoin="miter"/></svg>
<span class="t" style="font-size:25.6px;color:#14171c;top:1346.00px;left:212.90px;transform-origin:0 0;transform:scaleX(0.9778);">app_cart_items_count</span>
<svg style="left:184.10px;top:1406.45px;" width="16.00" height="10.00"><path d="M1.1,1.2 L8,8.1 L14.9,1.2" fill="none" stroke="#7a8089" stroke-width="2.6" stroke-linecap="butt" stroke-linejoin="miter"/></svg>
<span class="t" style="font-size:25.6px;color:#14171c;top:1397.00px;left:212.90px;transform-origin:0 0;transform:scaleX(0.9619);">app_currency_conversion_from</span>
<svg style="left:184.10px;top:1456.90px;" width="16.00" height="10.00"><path d="M1.1,1.2 L8,8.1 L14.9,1.2" fill="none" stroke="#7a8089" stroke-width="2.6" stroke-linecap="butt" stroke-linejoin="miter"/></svg>
<span class="t" style="font-size:25.6px;color:#14171c;top:1447.00px;left:212.90px;transform-origin:0 0;transform:scaleX(0.9598);">app_currency_conversion_to</span>
<svg style="left:184.10px;top:1507.35px;" width="16.00" height="10.00"><path d="M1.1,1.2 L8,8.1 L14.9,1.2" fill="none" stroke="#7a8089" stroke-width="2.6" stroke-linecap="butt" stroke-linejoin="miter"/></svg>
<span class="t" style="font-size:25.6px;color:#14171c;top:1497.00px;left:212.90px;transform-origin:0 0;transform:scaleX(0.9825);">app_email_recipient</span>
<svg style="left:184.10px;top:1557.80px;" width="16.00" height="10.00"><path d="M1.1,1.2 L8,8.1 L14.9,1.2" fill="none" stroke="#7a8089" stroke-width="2.6" stroke-linecap="butt" stroke-linejoin="miter"/></svg>
<span class="t" style="font-size:25.6px;color:#14171c;top:1548.00px;left:212.90px;transform-origin:0 0;transform:scaleX(0.9914);">app_filtered_products_count</span>
<svg style="left:184.10px;top:1608.25px;" width="16.00" height="10.00"><path d="M1.1,1.2 L8,8.1 L14.9,1.2" fill="none" stroke="#7a8089" stroke-width="2.6" stroke-linecap="butt" stroke-linejoin="miter"/></svg>
<span class="t" style="font-size:25.6px;color:#14171c;top:1598.00px;left:212.90px;transform-origin:0 0;">app_filtered_products_list</span>
<svg style="left:184.10px;top:1658.70px;" width="16.00" height="10.00"><path d="M1.1,1.2 L8,8.1 L14.9,1.2" fill="none" stroke="#7a8089" stroke-width="2.6" stroke-linecap="butt" stroke-linejoin="miter"/></svg>
<span class="t" style="font-size:25.6px;color:#14171c;top:1649.00px;left:212.90px;transform-origin:0 0;transform:scaleX(0.9957);">app_loyalty_level</span>
<div class="panel" style="left:740.00px;top:265.00px;width:2262.00px;height:1445.00px;"></div>
<span class="t" style="font-size:25.6px;color:#272c36;top:294.00px;left:755.80px;transform-origin:0 0;transform:scaleX(0.9753);">Filters:</span>
<div class="ob" style="left:846.00px;top:279.00px;width:124.00px;height:56.00px;"></div>
<div style="left:859.00px;top:293.00px;width:53.00px;height:29.00px;background:#c5d6df;border-radius:15px;"></div>
<div style="left:859.00px;top:295.00px;width:26.00px;height:26.00px;background:#fff;border-radius:50%;box-shadow:0 1px 3px rgba(0,0,0,.4);"></div>
<svg style="left:930.00px;top:290.70px;" width="31.80" height="31.80" viewBox="0 0 24 24"><path d="M12 2C6.48 2 2 6.48 2 12s4.48 10 10 10 10-4.48 10-10S17.52 2 12 2zm1 15h-2v-2h2v2zm0-4h-2V7h2v6z" fill="#f33d3d"/></svg>
<div style="left:747.00px;top:342.00px;width:2248.00px;height:435.00px;background:rgba(255,255,255,.85);border-radius:9px;"></div>
<div style="left:758.00px;top:350.00px;width:736.00px;height:421.00px;background:#fff;border:1px solid #d5dde4;border-radius:9px;"></div>
<span class="t" style="font-size:25.6px;color:#15181e;top:358.00px;left:769.30px;transform-origin:0 0;transform:scaleX(0.9238);">Rate</span>
<svg style="left:0.00px;top:0.00px;" width="3020.00" height="1722.00"><path d="M804.8,421.6 V729.8" stroke="#dfe5ec" stroke-width="2"/><path d="M874.7,421.6 V729.8" stroke="#dfe5ec" stroke-width="2"/><path d="M948.2,421.6 V729.8" stroke="#dfe5ec" stroke-width="2"/><path d="M1021.4,421.6 V729.8" stroke="#dfe5ec" stroke-width="2"/><path d="M1059.3,421.6 V729.8" stroke="#dfe5ec" stroke-width="2"/><path d="M1132.4,421.6 V729.8" stroke="#dfe5ec" stroke-width="2"/><path d="M1206.0,421.6 V729.8" stroke="#dfe5ec" stroke-width="2"/><path d="M1279.5,421.6 V729.8" stroke="#dfe5ec" stroke-width="2"/><path d="M1352.7,421.6 V729.8" stroke="#dfe5ec" stroke-width="2"/><path d="M1426.2,421.6 V729.8" stroke="#dfe5ec" stroke-width="2"/><path d="M1449.9,421.6 V729.8" stroke="#dfe5ec" stroke-width="2"/><path d="M804.8,421.6 H1449.9" stroke="#dfe5ec" stroke-width="2"/><path d="M804.8,473.0 H1449.9" stroke="#dfe5ec" stroke-width="2"/><path d="M804.8,524.3 H1449.9" stroke="#dfe5ec" stroke-width="2"/><path d="M804.8,575.7 H1449.9" stroke="#dfe5ec" stroke-width="2"/><path d="M804.8,627.1 H1449.9" stroke="#dfe5ec" stroke-width="2"/><path d="M804.8,678.5 H1449.9" stroke="#dfe5ec" stroke-width="2"/><path d="M804.8,729.8 H1449.9" stroke="#dfe5ec" stroke-width="2"/><path d="M812.8,678.6 H1078 C1150,678.6 1180,421.5 1238,421.5 C1290,421.5 1288,678.6 1328,678.6 H1440.8" fill="none" stroke="#ef4d4d" stroke-width="3.0" stroke-linejoin="round"/></svg>
<span class="t" style="font-size:21.6px;color:#5f6775;top:410.00px;left:778.01px;transform-origin:100% 0;">6</span>
<span class="t" style="font-size:21.6px;color:#5f6775;top:462.00px;left:778.01px;transform-origin:100% 0;">5</span>
<span class="t" style="font-size:21.6px;color:#5f6775;top:513.00px;left:778.01px;transform-origin:100% 0;">4</span>
<span class="t" style="font-size:21.6px;color:#5f6775;top:564.00px;left:778.01px;transform-origin:100% 0;">3</span>
<span class="t" style="font-size:21.6px;color:#5f6775;top:616.00px;left:778.01px;transform-origin:100% 0;">2</span>
<span class="t" style="font-size:21.6px;color:#5f6775;top:667.00px;left:778.01px;transform-origin:100% 0;">1</span>
<span class="t" style="font-size:21.6px;color:#5f6775;top:718.00px;left:778.01px;transform-origin:100% 0;">0</span>
<span class="t" style="font-size:21.6px;color:#5f6775;top:748.00px;left:862.51px;transform-origin:50% 0;">21</span>
<span class="t" style="font-size:21.6px;color:#5f6775;top:748.00px;left:936.01px;transform-origin:50% 0;">25</span>
<span class="t" style="font-size:21.6px;color:#5f6775;top:748.00px;left:1126.21px;transform-origin:50% 0;">5</span>
<span class="t" style="font-size:21.6px;color:#5f6775;top:748.00px;left:1199.81px;transform-origin:50% 0;">9</span>
<span class="t" style="font-size:21.6px;color:#5f6775;top:748.00px;left:1267.31px;transform-origin:50% 0;">13</span>
<span class="t" style="font-size:21.6px;color:#5f6775;top:748.00px;left:1340.51px;transform-origin:50% 0;">17</span>
<span class="t" style="font-size:21.6px;color:#5f6775;top:748.00px;left:1414.01px;transform-origin:50% 0;">21</span>
<span class="t" style="font-size:21.6px;color:#5f6775;top:748.00px;left:1009.41px;transform-origin:50% 0;">29</span>
<span class="t" style="font-size:21.6px;color:#5f6775;top:748.00px;font-weight:700;left:1038.88px;transform-origin:50% 0;">Dec</span>
<div style="left:1503.00px;top:350.00px;width:783.00px;height:421.00px;background:#fff;border:1px solid #d5dde4;border-radius:9px;"></div>
<span class="t" style="font-size:25.6px;color:#15181e;top:358.00px;left:1513.70px;transform-origin:0 0;transform:scaleX(0.9550);">Errors</span>
<svg style="left:0.00px;top:0.00px;" width="3020.00" height="1722.00"><path d="M1548.6,421.9 V729.9" stroke="#dfe5ec" stroke-width="2"/><path d="M1625.9,421.9 V729.9" stroke="#dfe5ec" stroke-width="2"/><path d="M1704.9,421.9 V729.9" stroke="#dfe5ec" stroke-width="2"/><path d="M1781.9,421.9 V729.9" stroke="#dfe5ec" stroke-width="2"/><path d="M1821.4,421.9 V729.9" stroke="#dfe5ec" stroke-width="2"/><path d="M1900.3,421.9 V729.9" stroke="#dfe5ec" stroke-width="2"/><path d="M1977.4,421.9 V729.9" stroke="#dfe5ec" stroke-width="2"/><path d="M2056.0,421.9 V729.9" stroke="#dfe5ec" stroke-width="2"/><path d="M2133.4,421.9 V729.9" stroke="#dfe5ec" stroke-width="2"/><path d="M2210.4,421.9 V729.9" stroke="#dfe5ec" stroke-width="2"/><path d="M2239.3,421.9 V729.9" stroke="#dfe5ec" stroke-width="2"/><path d="M1548.6,421.9 H2239.3" stroke="#dfe5ec" stroke-width="2"/><path d="M1548.6,473.2 H2239.3" stroke="#dfe5ec" stroke-width="2"/><path d="M1548.6,524.6 H2239.3" stroke="#dfe5ec" stroke-width="2"/><path d="M1548.6,575.9 H2239.3" stroke="#dfe5ec" stroke-width="2"/><path d="M1548.6,627.2 H2239.3" stroke="#dfe5ec" stroke-width="2"/><path d="M1548.6,678.5 H2239.3" stroke="#dfe5ec" stroke-width="2"/><path d="M1548.6,729.9 H2239.3" stroke="#dfe5ec" stroke-width="2"/><rect x="1557.05" y="678.6" width="6.9" height="51.6" fill="#fb0707"/><rect x="1664.75" y="678.6" width="6.9" height="51.6" fill="#fb0707"/><rect x="1674.45" y="678.6" width="6.9" height="51.6" fill="#fb0707"/><rect x="1743.05" y="678.6" width="6.9" height="51.6" fill="#fb0707"/><rect x="1781.95" y="678.6" width="6.9" height="51.6" fill="#fb0707"/><rect x="1801.65" y="678.6" width="6.9" height="51.6" fill="#fb0707"/><rect x="1840.85" y="678.6" width="6.9" height="51.6" fill="#fb0707"/><rect x="2104.85" y="678.6" width="6.9" height="51.6" fill="#fb0707"/><rect x="2124.65" y="678.6" width="6.9" height="51.6" fill="#fb0707"/><rect x="2134.35" y="678.6" width="6.9" height="51.6" fill="#fb0707"/><rect x="2144.05" y="678.6" width="6.9" height="51.6" fill="#fb0707"/><rect x="2212.65" y="678.6" width="6.9" height="51.6" fill="#fb0707"/><rect x="2222.65" y="678.6" width="6.9" height="51.6" fill="#fb0707"/><rect x="2007.15" y="420.8" width="6.9" height="309.4" fill="#fb0707"/></svg>
<span class="t" style="font-size:21.6px;color:#5f6775;top:411.00px;left:1522.61px;transform-origin:100% 0;">6</span>
<span class="t" style="font-size:21.6px;color:#5f6775;top:462.00px;left:1522.61px;transform-origin:100% 0;">5</span>
<span class="t" style="font-size:21.6px;color:#5f6775;top:513.00px;left:1522.61px;transform-origin:100% 0;">4</span>
<span class="t" style="font-size:21.6px;color:#5f6775;top:564.00px;left:1522.61px;transform-origin:100% 0;">3</span>
<span class="t" style="font-size:21.6px;color:#5f6775;top:616.00px;left:1522.61px;transform-origin:100% 0;">2</span>
<span class="t" style="font-size:21.6px;color:#5f6775;top:667.00px;left:1522.61px;transform-origin:100% 0;">1</span>
<span class="t" style="font-size:21.6px;color:#5f6775;top:718.00px;left:1522.61px;transform-origin:100% 0;">0</span>
<span class="t" style="font-size:21.6px;color:#5f6775;top:748.00px;left:1613.71px;transform-origin:50% 0;">21</span>
<span class="t" style="font-size:21.6px;color:#5f6775;top:748.00px;left:1692.71px;transform-origin:50% 0;">25</span>
<span class="t" style="font-size:21.6px;color:#5f6775;top:748.00px;left:1894.11px;transform-origin:50% 0;">5</span>
<span class="t" style="font-size:21.6px;color:#5f6775;top:748.00px;left:1971.21px;transform-origin:50% 0;">9</span>
<span class="t" style="font-size:21.6px;color:#5f6775;top:748.00px;left:2043.81px;transform-origin:50% 0;">13</span>
<span class="t" style="font-size:21.6px;color:#5f6775;top:748.00px;left:2121.21px;transform-origin:50% 0;">17</span>
<span class="t" style="font-size:21.6px;color:#5f6775;top:748.00px;left:2198.21px;transform-origin:50% 0;">21</span>
<span class="t" style="font-size:21.6px;color:#5f6775;top:748.00px;left:1769.91px;transform-origin:50% 0;">29</span>
<span class="t" style="font-size:21.6px;color:#5f6775;top:748.00px;font-weight:700;left:1801.58px;transform-origin:50% 0;">Dec</span>
<div style="left:2293.00px;top:350.00px;width:691.00px;height:421.00px;background:#fff;border:1px solid #d5dde4;border-radius:9px;"></div>
<span class="t" style="font-size:25.6px;color:#15181e;top:358.00px;left:2304.50px;transform-origin:0 0;transform:scaleX(0.9921);">Duration</span>
<svg style="left:0.00px;top:0.00px;" width="3020.00" height="1722.00"><path d="M2422.2,421.9 V729.5" stroke="#dfe5ec" stroke-width="2"/><path d="M2477.8,421.9 V729.5" stroke="#dfe5ec" stroke-width="2"/><path d="M2537.2,421.9 V729.5" stroke="#dfe5ec" stroke-width="2"/><path d="M2596.2,421.9 V729.5" stroke="#dfe5ec" stroke-width="2"/><path d="M2625.0,421.9 V729.5" stroke="#dfe5ec" stroke-width="2"/><path d="M2684.0,421.9 V729.5" stroke="#dfe5ec" stroke-width="2"/><path d="M2743.0,421.9 V729.5" stroke="#dfe5ec" stroke-width="2"/><path d="M2802.4,421.9 V729.5" stroke="#dfe5ec" stroke-width="2"/><path d="M2861.5,421.9 V729.5" stroke="#dfe5ec" stroke-width="2"/><path d="M2920.8,421.9 V729.5" stroke="#dfe5ec" stroke-width="2"/><path d="M2938.7,421.9 V729.5" stroke="#dfe5ec" stroke-width="2"/><path d="M2422.2,421.9 H2938.7" stroke="#dfe5ec" stroke-width="2"/><path d="M2422.2,483.4 H2938.7" stroke="#dfe5ec" stroke-width="2"/><path d="M2422.2,544.9 H2938.7" stroke="#dfe5ec" stroke-width="2"/><path d="M2422.2,606.5 H2938.7" stroke="#dfe5ec" stroke-width="2"/><path d="M2422.2,668.0 H2938.7" stroke="#dfe5ec" stroke-width="2"/><path d="M2422.2,729.5 H2938.7" stroke="#dfe5ec" stroke-width="2"/><path d="M2429.3,724.2 C2434.9,723.4 2441.8,722.1 2453.1,720.8 C2464.4,719.5 2467.7,719.5 2477.8,718.7 C2487.9,717.9 2488.8,717.8 2496.4,717.4 C2504.0,717.1 2506.1,716.3 2510.3,717.1 C2514.5,717.9 2512.9,719.2 2514.3,720.8 C2515.8,722.5 2511.3,723.4 2516.5,724.2 C2521.7,725.1 2523.2,724.5 2536.6,724.5 C2549.9,724.5 2562.1,724.9 2573.7,724.2 C2585.2,723.6 2581.0,722.8 2586.0,721.8 C2591.1,720.7 2591.3,720.0 2595.3,719.6 C2599.3,719.2 2599.4,719.3 2603.0,720.2 C2606.6,721.2 2606.8,722.7 2610.8,723.6 C2614.7,724.6 2612.1,724.2 2620.0,724.2 C2628.0,724.3 2636.8,724.5 2644.8,723.9 C2652.7,723.3 2649.0,724.4 2654.0,721.8 C2659.1,719.1 2660.3,719.4 2666.4,712.5 C2672.5,705.6 2674.7,702.0 2680.0,692.3 C2685.3,682.5 2684.8,682.1 2689.1,670.7 C2693.3,659.4 2693.9,657.8 2698.1,643.5 C2702.4,629.2 2703.5,624.9 2707.2,609.5 C2710.9,594.2 2710.8,593.1 2714.0,577.8 C2717.2,562.4 2717.6,559.1 2720.8,543.8 C2724.0,528.4 2724.4,525.8 2727.6,512.0 C2730.8,498.3 2731.2,495.9 2734.4,484.8 C2737.6,473.7 2738.0,472.3 2741.2,464.4 C2744.4,456.5 2744.8,456.1 2748.0,450.8 C2751.2,445.5 2751.6,445.2 2754.8,441.7 C2758.0,438.3 2758.2,437.8 2761.6,436.1 C2765.1,434.4 2765.9,434.0 2769.6,434.5 C2773.3,435.0 2774.1,435.3 2777.5,438.3 C2780.9,441.4 2781.4,442.4 2784.3,447.4 C2787.2,452.4 2787.6,453.3 2790.0,459.9 C2792.3,466.5 2792.4,467.3 2794.5,475.7 C2796.6,484.2 2797.2,486.1 2799.0,496.2 C2800.9,506.2 2800.8,507.2 2802.4,518.8 C2804.0,530.5 2804.2,532.3 2805.8,546.0 C2807.4,559.8 2807.6,563.0 2809.2,577.8 C2810.8,592.6 2811.0,595.2 2812.6,609.5 C2814.2,623.8 2814.4,626.8 2816.0,639.0 C2817.6,651.2 2817.6,651.6 2819.4,661.7 C2821.3,671.7 2821.9,674.1 2824.0,682.1 C2826.1,690.0 2826.1,690.1 2828.5,695.7 C2830.9,701.2 2831.8,702.4 2834.2,705.9 C2836.6,709.3 2836.5,709.0 2838.7,710.4 C2840.9,711.8 2841.8,713.3 2843.7,712.0 C2845.5,710.7 2845.2,708.8 2846.6,704.7 C2848.1,700.7 2848.5,698.3 2850.0,694.5 C2851.6,690.7 2851.6,690.4 2853.4,688.4 C2855.3,686.5 2855.0,686.7 2858.0,686.1 C2861.0,685.6 2864.0,684.5 2866.4,686.1 C2868.7,687.8 2867.5,688.0 2868.2,693.4 C2868.8,698.8 2868.5,703.9 2869.1,709.3 C2869.7,714.7 2869.5,714.7 2870.9,716.5 C2872.3,718.4 2871.9,717.7 2875.0,717.2 C2878.0,716.7 2879.3,716.2 2884.0,714.5 C2888.8,712.7 2890.1,711.7 2895.4,709.7 C2900.7,707.7 2901.4,707.1 2906.7,705.9 C2912.0,704.6 2913.6,704.7 2918.1,704.3 C2922.6,703.9 2922.9,703.6 2926.0,704.3 C2929.1,704.9 2930.0,706.4 2931.2,707.0" fill="none" stroke="#ef4d4d" stroke-width="2.9" stroke-linejoin="round" stroke-linecap="round"/></svg>
<span class="t" style="font-size:21.6px;color:#5f6775;top:411.00px;left:2312.78px;transform-origin:100% 0;">500.00ms</span>
<span class="t" style="font-size:21.6px;color:#5f6775;top:472.00px;left:2312.78px;transform-origin:100% 0;">400.00ms</span>
<span class="t" style="font-size:21.6px;color:#5f6775;top:534.00px;left:2312.78px;transform-origin:100% 0;">300.00ms</span>
<span class="t" style="font-size:21.6px;color:#5f6775;top:595.00px;left:2312.78px;transform-origin:100% 0;">200.00ms</span>
<span class="t" style="font-size:21.6px;color:#5f6775;top:657.00px;left:2312.78px;transform-origin:100% 0;">100.00ms</span>
<span class="t" style="font-size:21.6px;color:#5f6775;top:718.00px;left:2342.69px;transform-origin:100% 0;">0.00ns</span>
<span class="t" style="font-size:21.6px;color:#5f6775;top:748.00px;left:2465.61px;transform-origin:50% 0;">21</span>
<span class="t" style="font-size:21.6px;color:#5f6775;top:748.00px;left:2525.01px;transform-origin:50% 0;">25</span>
<span class="t" style="font-size:21.6px;color:#5f6775;top:748.00px;left:2677.81px;transform-origin:50% 0;">5</span>
<span class="t" style="font-size:21.6px;color:#5f6775;top:748.00px;left:2736.81px;transform-origin:50% 0;">9</span>
<span class="t" style="font-size:21.6px;color:#5f6775;top:748.00px;left:2790.21px;transform-origin:50% 0;">13</span>
<span class="t" style="font-size:21.6px;color:#5f6775;top:748.00px;left:2849.31px;transform-origin:50% 0;">17</span>
<span class="t" style="font-size:21.6px;color:#5f6775;top:748.00px;left:2908.61px;transform-origin:50% 0;">21</span>
<span class="t" style="font-size:21.6px;color:#5f6775;top:748.00px;font-weight:700;left:2605.18px;transform-origin:50% 0;">Dec</span>
<span class="t" style="font-size:28.4px;color:#15181e;top:802.00px;font-weight:700;left:756.40px;transform-origin:0 0;transform:scaleX(0.9768);">19 Traces</span>
<div style="left:740px;top:840px;width:2262px;height:861px;overflow:hidden">
<div style="left:14.00px;top:9.00px;width:2233.00px;height:129.00px;border:1px solid #e1e6eb;border-radius:8px;background:rgba(255,255,255,.2);"></div>
<div style="left:14.00px;top:9.00px;width:2233.00px;height:53.00px;background:#c8d9e0;border-radius:8px 8px 0 0;"></div>
<span class="t" style="font-size:24.6px;color:#15181e;top:23.00px;font-weight:700;left:30.60px;transform-origin:0 0;transform:scaleX(1.0469);">load-generator:</span>
<span class="t" style="font-size:24.6px;color:#15181e;top:23.00px;font-weight:700;left:235.70px;transform-origin:0 0;">user_checkout_multi</span>
<span class="t" style="font-size:25.6px;color:#15181e;top:22.00px;left:2133.72px;transform-origin:100% 0;">75.17ms</span>
<div style="left:30.00px;top:76.00px;width:150.00px;height:40.00px;border:1px solid #d3dae1;border-radius:8px;"></div>
<div style="left:187.00px;top:76.00px;width:132.00px;height:40.00px;border:1px solid #f0908d;border-radius:8px;"></div>
<span class="t" style="font-size:24.8px;color:#575e6c;top:83.00px;left:46.10px;transform-origin:0 0;transform:scaleX(0.9870);">Spans : 22</span>
<span class="t" style="font-size:24.8px;color:#e5484d;top:83.00px;left:202.80px;transform-origin:0 0;transform:scaleX(0.9791);">Errors : 9</span>
<div style="left:375.00px;top:77.00px;width:154.00px;height:38.00px;border:1px solid #e4e8ed;border-radius:8px;background:rgba(255,255,255,.3);"></div>
<div style="left:375.00px;top:77.00px;width:25.00px;height:38.00px;background:#5ff72b;border-radius:8px 0 0 8px;"></div>
<span class="t" style="font-size:23.6px;color:#1b202b;top:84.00px;left:407.50px;transform-origin:0 0;transform:scaleX(0.8919);">currency (2)</span>
<div style="left:560.00px;top:77.00px;width:155.00px;height:38.00px;border:1px solid #e4e8ed;border-radius:8px;background:rgba(255,255,255,.3);"></div>
<div style="left:560.00px;top:77.00px;width:25.00px;height:38.00px;background:#ffe04a;border-radius:8px 0 0 8px;"></div>
<span class="t" style="font-size:23.6px;color:#1b202b;top:84.00px;left:592.10px;transform-origin:0 0;transform:scaleX(0.9253);">frontend (4)</span>
<div style="left:745.00px;top:77.00px;width:218.00px;height:38.00px;border:1px solid #e4e8ed;border-radius:8px;background:rgba(255,255,255,.3);"></div>
<div style="left:745.00px;top:77.00px;width:25.00px;height:38.00px;background:#fcc5a0;border-radius:8px 0 0 8px;"></div>
<span class="t" style="font-size:23.6px;color:#1b202b;top:84.00px;left:777.30px;transform-origin:0 0;transform:scaleX(0.9337);">load-generator (2)</span>
<div style="left:993.00px;top:77.00px;width:158.00px;height:38.00px;border:1px solid #e4e8ed;border-radius:8px;background:rgba(255,255,255,.3);"></div>
<div style="left:993.00px;top:77.00px;width:25.00px;height:38.00px;background:#5ff72b;border-radius:8px 0 0 8px;"></div>
<span class="t" style="font-size:23.6px;color:#1b202b;top:84.00px;left:1026.00px;transform-origin:0 0;transform:scaleX(0.8921);">checkout (8)</span>
<div style="left:1182.00px;top:77.00px;width:109.00px;height:38.00px;border:1px solid #e4e8ed;border-radius:8px;background:rgba(255,255,255,.3);"></div>
<div style="left:1182.00px;top:77.00px;width:25.00px;height:38.00px;background:#ffb22e;border-radius:8px 0 0 8px;"></div>
<span class="t" style="font-size:23.6px;color:#1b202b;top:84.00px;left:1214.20px;transform-origin:0 0;transform:scaleX(0.8997);">cart (2)</span>
<div style="left:1321.00px;top:77.00px;width:219.00px;height:38.00px;border:1px solid #e4e8ed;border-radius:8px;background:rgba(255,255,255,.3);"></div>
<div style="left:1321.00px;top:77.00px;width:25.00px;height:38.00px;background:#8a98c3;border-radius:8px 0 0 8px;"></div>
<span class="t" style="font-size:23.6px;color:#1b202b;top:84.00px;left:1353.70px;transform-origin:0 0;transform:scaleX(0.9397);">frontend-proxy (2)</span>
<div style="left:1570.00px;top:77.00px;width:227.00px;height:38.00px;border:1px solid #e4e8ed;border-radius:8px;background:rgba(255,255,255,.3);"></div>
<div style="left:1570.00px;top:77.00px;width:25.00px;height:38.00px;background:#ffb22e;border-radius:8px 0 0 8px;"></div>
<span class="t" style="font-size:23.6px;color:#1b202b;top:84.00px;left:1602.30px;transform-origin:0 0;transform:scaleX(0.9358);">product-catalog (2)</span>
<span class="t" style="font-size:25.8px;color:#15181e;top:81.00px;left:2087.03px;transform-origin:100% 0;transform:scaleX(1.0168);">01:39:04 AM</span>
<div style="left:2066.00px;top:81.00px;width:3.00px;height:28.00px;background:#dadfe5;"></div>
<span class="t" style="font-size:25.8px;color:#15181e;top:81.00px;left:1982.01px;transform-origin:100% 0;transform:scaleX(0.9770);">Today</span>
<div style="left:14.00px;top:150.00px;width:2233.00px;height:128.00px;border:1px solid #e1e6eb;border-radius:8px;background:rgba(255,255,255,.2);"></div>
<div style="left:14.00px;top:150.00px;width:2233.00px;height:52.00px;background:#c8d9e0;border-radius:8px 8px 0 0;"></div>
<span class="t" style="font-size:24.6px;color:#15181e;top:163.00px;font-weight:700;left:30.60px;transform-origin:0 0;transform:scaleX(1.0469);">load-generator:</span>
<span class="t" style="font-size:24.6px;color:#15181e;top:163.00px;font-weight:700;left:235.70px;transform-origin:0 0;">user_checkout_single</span>
<span class="t" style="font-size:25.6px;color:#15181e;top:162.00px;left:2135.64px;transform-origin:100% 0;transform:scaleX(1.0202);">63.11ms</span>
<div style="left:30.00px;top:217.00px;width:150.00px;height:39.00px;border:1px solid #d3dae1;border-radius:8px;"></div>
<div style="left:187.00px;top:217.00px;width:132.00px;height:39.00px;border:1px solid #f0908d;border-radius:8px;"></div>
<span class="t" style="font-size:24.8px;color:#575e6c;top:224.00px;left:46.10px;transform-origin:0 0;transform:scaleX(0.9870);">Spans : 18</span>
<span class="t" style="font-size:24.8px;color:#e5484d;top:224.00px;left:202.80px;transform-origin:0 0;transform:scaleX(0.9791);">Errors : 9</span>
<div style="left:375.00px;top:217.00px;width:158.00px;height:39.00px;border:1px solid #e4e8ed;border-radius:8px;background:rgba(255,255,255,.3);"></div>
<div style="left:375.00px;top:217.00px;width:25.00px;height:39.00px;background:#5ff72b;border-radius:8px 0 0 8px;"></div>
<span class="t" style="font-size:23.6px;color:#1b202b;top:225.00px;left:407.50px;transform-origin:0 0;transform:scaleX(0.8921);">checkout (6)</span>
<div style="left:563.00px;top:217.00px;width:219.00px;height:39.00px;border:1px solid #e4e8ed;border-radius:8px;background:rgba(255,255,255,.3);"></div>
<div style="left:563.00px;top:217.00px;width:25.00px;height:39.00px;background:#fcc5a0;border-radius:8px 0 0 8px;"></div>
<span class="t" style="font-size:23.6px;color:#1b202b;top:225.00px;left:595.70px;transform-origin:0 0;transform:scaleX(0.9337);">load-generator (2)</span>
<div style="left:812.00px;top:217.00px;width:227.00px;height:39.00px;border:1px solid #e4e8ed;border-radius:8px;background:rgba(255,255,255,.3);"></div>
<div style="left:812.00px;top:217.00px;width:25.00px;height:39.00px;background:#ffb22e;border-radius:8px 0 0 8px;"></div>
<span class="t" style="font-size:23.6px;color:#1b202b;top:225.00px;left:844.40px;transform-origin:0 0;transform:scaleX(0.9358);">product-catalog (1)</span>
<div style="left:1070.00px;top:217.00px;width:154.00px;height:39.00px;border:1px solid #e4e8ed;border-radius:8px;background:rgba(255,255,255,.3);"></div>
<div style="left:1070.00px;top:217.00px;width:25.00px;height:39.00px;background:#5ff72b;border-radius:8px 0 0 8px;"></div>
<span class="t" style="font-size:23.6px;color:#1b202b;top:225.00px;left:1102.10px;transform-origin:0 0;transform:scaleX(0.8919);">currency (1)</span>
<div style="left:1254.00px;top:217.00px;width:109.00px;height:39.00px;border:1px solid #e4e8ed;border-radius:8px;background:rgba(255,255,255,.3);"></div>
<div style="left:1254.00px;top:217.00px;width:25.00px;height:39.00px;background:#ffb22e;border-radius:8px 0 0 8px;"></div>
<span class="t" style="font-size:23.6px;color:#1b202b;top:225.00px;left:1286.70px;transform-origin:0 0;transform:scaleX(0.8997);">cart (2)</span>
<div style="left:1394.00px;top:217.00px;width:155.00px;height:39.00px;border:1px solid #e4e8ed;border-radius:8px;background:rgba(255,255,255,.3);"></div>
<div style="left:1394.00px;top:217.00px;width:25.00px;height:39.00px;background:#ffe04a;border-radius:8px 0 0 8px;"></div>
<span class="t" style="font-size:23.6px;color:#1b202b;top:225.00px;left:1426.20px;transform-origin:0 0;transform:scaleX(0.9253);">frontend (4)</span>
<div style="left:1579.00px;top:217.00px;width:218.00px;height:39.00px;border:1px solid #e4e8ed;border-radius:8px;background:rgba(255,255,255,.3);"></div>
<div style="left:1579.00px;top:217.00px;width:25.00px;height:39.00px;background:#8a98c3;border-radius:8px 0 0 8px;"></div>
<span class="t" style="font-size:23.6px;color:#1b202b;top:225.00px;left:1611.40px;transform-origin:0 0;transform:scaleX(0.9397);">frontend-proxy (2)</span>
<span class="t" style="font-size:25.8px;color:#15181e;top:222.00px;left:2085.61px;transform-origin:100% 0;transform:scaleX(0.9939);">04:20:41 PM</span>
<div style="left:2068.00px;top:221.00px;width:3.00px;height:29.00px;background:#dadfe5;"></div>
<span class="t" style="font-size:25.8px;color:#15181e;top:222.00px;left:1983.91px;transform-origin:100% 0;transform:scaleX(0.9770);">Today</span>
<div style="left:14.00px;top:290.00px;width:2233.00px;height:129.00px;border:1px solid #e1e6eb;border-radius:8px;background:rgba(255,255,255,.2);"></div>
<div style="left:14.00px;top:290.00px;width:2233.00px;height:53.00px;background:#c8d9e0;border-radius:8px 8px 0 0;"></div>
<span class="t" style="font-size:24.6px;color:#15181e;top:304.00px;font-weight:700;left:30.60px;transform-origin:0 0;transform:scaleX(1.0469);">load-generator:</span>
<span class="t" style="font-size:24.6px;color:#15181e;top:304.00px;font-weight:700;left:235.70px;transform-origin:0 0;">user_checkout_single</span>
<span class="t" style="font-size:25.6px;color:#15181e;top:303.00px;left:2133.72px;transform-origin:100% 0;">38.21ms</span>
<div style="left:30.00px;top:357.00px;width:150.00px;height:40.00px;border:1px solid #d3dae1;border-radius:8px;"></div>
<div style="left:187.00px;top:357.00px;width:132.00px;height:40.00px;border:1px solid #f0908d;border-radius:8px;"></div>
<span class="t" style="font-size:24.8px;color:#575e6c;top:364.00px;left:46.10px;transform-origin:0 0;transform:scaleX(0.9870);">Spans : 18</span>
<span class="t" style="font-size:24.8px;color:#e5484d;top:364.00px;left:202.80px;transform-origin:0 0;transform:scaleX(0.9791);">Errors : 9</span>
<div style="left:375.00px;top:358.00px;width:218.00px;height:38.00px;border:1px solid #e4e8ed;border-radius:8px;background:rgba(255,255,255,.3);"></div>
<div style="left:375.00px;top:358.00px;width:25.00px;height:38.00px;background:#8a98c3;border-radius:8px 0 0 8px;"></div>
<span class="t" style="font-size:23.6px;color:#1b202b;top:365.00px;left:407.50px;transform-origin:0 0;transform:scaleX(0.9397);">frontend-proxy (2)</span>
<div style="left:624.00px;top:358.00px;width:154.00px;height:38.00px;border:1px solid #e4e8ed;border-radius:8px;background:rgba(255,255,255,.3);"></div>
<div style="left:624.00px;top:358.00px;width:25.00px;height:38.00px;background:#5ff72b;border-radius:8px 0 0 8px;"></div>
<span class="t" style="font-size:23.6px;color:#1b202b;top:365.00px;left:656.10px;transform-origin:0 0;transform:scaleX(0.8919);">currency (1)</span>
<div style="left:808.00px;top:358.00px;width:219.00px;height:38.00px;border:1px solid #e4e8ed;border-radius:8px;background:rgba(255,255,255,.3);"></div>
<div style="left:808.00px;top:358.00px;width:25.00px;height:38.00px;background:#fcc5a0;border-radius:8px 0 0 8px;"></div>
<span class="t" style="font-size:23.6px;color:#1b202b;top:365.00px;left:840.70px;transform-origin:0 0;transform:scaleX(0.9337);">load-generator (2)</span>
<div style="left:1057.00px;top:358.00px;width:109.00px;height:38.00px;border:1px solid #e4e8ed;border-radius:8px;background:rgba(255,255,255,.3);"></div>
<div style="left:1057.00px;top:358.00px;width:25.00px;height:38.00px;background:#ffb22e;border-radius:8px 0 0 8px;"></div>
<span class="t" style="font-size:23.6px;color:#1b202b;top:365.00px;left:1089.40px;transform-origin:0 0;transform:scaleX(0.8997);">cart (2)</span>
<div style="left:1196.00px;top:358.00px;width:158.00px;height:38.00px;border:1px solid #e4e8ed;border-radius:8px;background:rgba(255,255,255,.3);"></div>
<div style="left:1196.00px;top:358.00px;width:25.00px;height:38.00px;background:#5ff72b;border-radius:8px 0 0 8px;"></div>
<span class="t" style="font-size:23.6px;color:#1b202b;top:365.00px;left:1228.90px;transform-origin:0 0;transform:scaleX(0.8921);">checkout (6)</span>
<div style="left:1385.00px;top:358.00px;width:227.00px;height:38.00px;border:1px solid #e4e8ed;border-radius:8px;background:rgba(255,255,255,.3);"></div>
<div style="left:1385.00px;top:358.00px;width:25.00px;height:38.00px;background:#ffb22e;border-radius:8px 0 0 8px;"></div>
<span class="t" style="font-size:23.6px;color:#1b202b;top:365.00px;left:1417.10px;transform-origin:0 0;transform:scaleX(0.9358);">product-catalog (1)</span>
<div style="left:1642.00px;top:358.00px;width:155.00px;height:38.00px;border:1px solid #e4e8ed;border-radius:8px;background:rgba(255,255,255,.3);"></div>
<div style="left:1642.00px;top:358.00px;width:25.00px;height:38.00px;background:#ffe04a;border-radius:8px 0 0 8px;"></div>
<span class="t" style="font-size:23.6px;color:#1b202b;top:365.00px;left:1674.80px;transform-origin:0 0;transform:scaleX(0.9253);">frontend (4)</span>
<span class="t" style="font-size:25.8px;color:#15181e;top:362.00px;left:2085.61px;transform-origin:100% 0;transform:scaleX(0.9939);">08:12:36 PM</span>
<div style="left:2068.00px;top:362.00px;width:3.00px;height:28.00px;background:#dadfe5;"></div>
<span class="t" style="font-size:25.8px;color:#15181e;top:362.00px;left:1971.01px;transform-origin:100% 0;transform:scaleX(0.9843);">17 Dec</span>
<div style="left:14.00px;top:431.00px;width:2233.00px;height:128.00px;border:1px solid #e1e6eb;border-radius:8px;background:rgba(255,255,255,.2);"></div>
<div style="left:14.00px;top:431.00px;width:2233.00px;height:52.00px;background:#c8d9e0;border-radius:8px 8px 0 0;"></div>
<span class="t" style="font-size:24.6px;color:#15181e;top:444.00px;font-weight:700;left:30.60px;transform-origin:0 0;transform:scaleX(1.0469);">load-generator:</span>
<span class="t" style="font-size:24.6px;color:#15181e;top:444.00px;font-weight:700;left:235.70px;transform-origin:0 0;">user_checkout_multi</span>
<span class="t" style="font-size:25.6px;color:#15181e;top:443.00px;left:2119.52px;transform-origin:100% 0;transform:scaleX(1.0090);">132.90ms</span>
<div style="left:30.00px;top:498.00px;width:150.00px;height:39.00px;border:1px solid #d3dae1;border-radius:8px;"></div>
<div style="left:187.00px;top:498.00px;width:132.00px;height:39.00px;border:1px solid #f0908d;border-radius:8px;"></div>
<span class="t" style="font-size:24.8px;color:#575e6c;top:505.00px;left:46.10px;transform-origin:0 0;transform:scaleX(0.9870);">Spans : 26</span>
<span class="t" style="font-size:24.8px;color:#e5484d;top:505.00px;left:202.80px;transform-origin:0 0;transform:scaleX(0.9791);">Errors : 9</span>
<div style="left:375.00px;top:498.00px;width:154.00px;height:39.00px;border:1px solid #e4e8ed;border-radius:8px;background:rgba(255,255,255,.3);"></div>
<div style="left:375.00px;top:498.00px;width:25.00px;height:39.00px;background:#5ff72b;border-radius:8px 0 0 8px;"></div>
<span class="t" style="font-size:23.6px;color:#1b202b;top:506.00px;left:407.50px;transform-origin:0 0;transform:scaleX(0.8919);">currency (3)</span>
<div style="left:560.00px;top:498.00px;width:171.00px;height:39.00px;border:1px solid #e4e8ed;border-radius:8px;background:rgba(255,255,255,.3);"></div>
<div style="left:560.00px;top:498.00px;width:25.00px;height:39.00px;background:#5ff72b;border-radius:8px 0 0 8px;"></div>
<span class="t" style="font-size:23.6px;color:#1b202b;top:506.00px;left:592.10px;transform-origin:0 0;transform:scaleX(0.9062);">checkout (10)</span>
<div style="left:761.00px;top:498.00px;width:219.00px;height:39.00px;border:1px solid #e4e8ed;border-radius:8px;background:rgba(255,255,255,.3);"></div>
<div style="left:761.00px;top:498.00px;width:25.00px;height:39.00px;background:#fcc5a0;border-radius:8px 0 0 8px;"></div>
<span class="t" style="font-size:23.6px;color:#1b202b;top:506.00px;left:794.00px;transform-origin:0 0;transform:scaleX(0.9337);">load-generator (2)</span>
<div style="left:1010.00px;top:498.00px;width:228.00px;height:39.00px;border:1px solid #e4e8ed;border-radius:8px;background:rgba(255,255,255,.3);"></div>
<div style="left:1010.00px;top:498.00px;width:25.00px;height:39.00px;background:#ffb22e;border-radius:8px 0 0 8px;"></div>
<span class="t" style="font-size:23.6px;color:#1b202b;top:506.00px;left:1042.70px;transform-origin:0 0;transform:scaleX(0.9358);">product-catalog (3)</span>
<div style="left:1268.00px;top:498.00px;width:155.00px;height:39.00px;border:1px solid #e4e8ed;border-radius:8px;background:rgba(255,255,255,.3);"></div>
<div style="left:1268.00px;top:498.00px;width:25.00px;height:39.00px;background:#ffe04a;border-radius:8px 0 0 8px;"></div>
<span class="t" style="font-size:23.6px;color:#1b202b;top:506.00px;left:1300.40px;transform-origin:0 0;transform:scaleX(0.9253);">frontend (4)</span>
<div style="left:1453.00px;top:498.00px;width:109.00px;height:39.00px;border:1px solid #e4e8ed;border-radius:8px;background:rgba(255,255,255,.3);"></div>
<div style="left:1453.00px;top:498.00px;width:25.00px;height:39.00px;background:#ffb22e;border-radius:8px 0 0 8px;"></div>
<span class="t" style="font-size:23.6px;color:#1b202b;top:506.00px;left:1485.60px;transform-origin:0 0;transform:scaleX(0.8997);">cart (2)</span>
<div style="left:1593.00px;top:498.00px;width:218.00px;height:39.00px;border:1px solid #e4e8ed;border-radius:8px;background:rgba(255,255,255,.3);"></div>
<div style="left:1593.00px;top:498.00px;width:25.00px;height:39.00px;background:#8a98c3;border-radius:8px 0 0 8px;"></div>
<span class="t" style="font-size:23.6px;color:#1b202b;top:506.00px;left:1625.10px;transform-origin:0 0;transform:scaleX(0.9397);">frontend-proxy (2)</span>
<span class="t" style="font-size:25.8px;color:#15181e;top:503.00px;left:2085.61px;transform-origin:100% 0;transform:scaleX(0.9939);">05:09:05 PM</span>
<div style="left:2068.00px;top:502.00px;width:3.00px;height:29.00px;background:#dadfe5;"></div>
<span class="t" style="font-size:25.8px;color:#15181e;top:503.00px;left:1971.01px;transform-origin:100% 0;transform:scaleX(0.9843);">17 Dec</span>
<div style="left:14.00px;top:571.00px;width:2233.00px;height:129.00px;border:1px solid #e1e6eb;border-radius:8px;background:rgba(255,255,255,.2);"></div>
<div style="left:14.00px;top:571.00px;width:2233.00px;height:53.00px;background:#c8d9e0;border-radius:8px 8px 0 0;"></div>
<span class="t" style="font-size:24.6px;color:#15181e;top:585.00px;font-weight:700;left:30.60px;transform-origin:0 0;transform:scaleX(1.0469);">load-generator:</span>
<span class="t" style="font-size:24.6px;color:#15181e;top:585.00px;font-weight:700;left:235.70px;transform-origin:0 0;">user_checkout_multi</span>
<span class="t" style="font-size:25.6px;color:#15181e;top:584.00px;left:2119.52px;transform-origin:100% 0;transform:scaleX(1.0090);">100.04ms</span>
<div style="left:30.00px;top:638.00px;width:150.00px;height:40.00px;border:1px solid #d3dae1;border-radius:8px;"></div>
<div style="left:187.00px;top:638.00px;width:132.00px;height:40.00px;border:1px solid #f0908d;border-radius:8px;"></div>
<span class="t" style="font-size:24.8px;color:#575e6c;top:645.00px;left:46.10px;transform-origin:0 0;transform:scaleX(0.9870);">Spans : 18</span>
<span class="t" style="font-size:24.8px;color:#e5484d;top:645.00px;left:202.80px;transform-origin:0 0;transform:scaleX(0.9791);">Errors : 9</span>
<div style="left:375.00px;top:639.00px;width:155.00px;height:38.00px;border:1px solid #e4e8ed;border-radius:8px;background:rgba(255,255,255,.3);"></div>
<div style="left:375.00px;top:639.00px;width:25.00px;height:38.00px;background:#ffe04a;border-radius:8px 0 0 8px;"></div>
<span class="t" style="font-size:23.6px;color:#1b202b;top:646.00px;left:407.50px;transform-origin:0 0;transform:scaleX(0.9253);">frontend (4)</span>
<div style="left:560.00px;top:639.00px;width:109.00px;height:38.00px;border:1px solid #e4e8ed;border-radius:8px;background:rgba(255,255,255,.3);"></div>
<div style="left:560.00px;top:639.00px;width:25.00px;height:38.00px;background:#ffb22e;border-radius:8px 0 0 8px;"></div>
<span class="t" style="font-size:23.6px;color:#1b202b;top:646.00px;left:592.70px;transform-origin:0 0;transform:scaleX(0.8997);">cart (2)</span>
<div style="left:700.00px;top:639.00px;width:218.00px;height:38.00px;border:1px solid #e4e8ed;border-radius:8px;background:rgba(255,255,255,.3);"></div>
<div style="left:700.00px;top:639.00px;width:25.00px;height:38.00px;background:#fcc5a0;border-radius:8px 0 0 8px;"></div>
<span class="t" style="font-size:23.6px;color:#1b202b;top:646.00px;left:732.20px;transform-origin:0 0;transform:scaleX(0.9337);">load-generator (2)</span>
<div style="left:948.00px;top:639.00px;width:228.00px;height:38.00px;border:1px solid #e4e8ed;border-radius:8px;background:rgba(255,255,255,.3);"></div>
<div style="left:948.00px;top:639.00px;width:25.00px;height:38.00px;background:#ffb22e;border-radius:8px 0 0 8px;"></div>
<span class="t" style="font-size:23.6px;color:#1b202b;top:646.00px;left:980.90px;transform-origin:0 0;transform:scaleX(0.9358);">product-catalog (1)</span>
<div style="left:1206.00px;top:639.00px;width:154.00px;height:38.00px;border:1px solid #e4e8ed;border-radius:8px;background:rgba(255,255,255,.3);"></div>
<div style="left:1206.00px;top:639.00px;width:25.00px;height:38.00px;background:#5ff72b;border-radius:8px 0 0 8px;"></div>
<span class="t" style="font-size:23.6px;color:#1b202b;top:646.00px;left:1238.60px;transform-origin:0 0;transform:scaleX(0.8919);">currency (1)</span>
<div style="left:1391.00px;top:639.00px;width:218.00px;height:38.00px;border:1px solid #e4e8ed;border-radius:8px;background:rgba(255,255,255,.3);"></div>
<div style="left:1391.00px;top:639.00px;width:25.00px;height:38.00px;background:#8a98c3;border-radius:8px 0 0 8px;"></div>
<span class="t" style="font-size:23.6px;color:#1b202b;top:646.00px;left:1423.20px;transform-origin:0 0;transform:scaleX(0.9397);">frontend-proxy (2)</span>
<div style="left:1639.00px;top:639.00px;width:158.00px;height:38.00px;border:1px solid #e4e8ed;border-radius:8px;background:rgba(255,255,255,.3);"></div>
<div style="left:1639.00px;top:639.00px;width:25.00px;height:38.00px;background:#5ff72b;border-radius:8px 0 0 8px;"></div>
<span class="t" style="font-size:23.6px;color:#1b202b;top:646.00px;left:1671.80px;transform-origin:0 0;transform:scaleX(0.8921);">checkout (6)</span>
<span class="t" style="font-size:25.8px;color:#15181e;top:643.00px;left:2085.61px;transform-origin:100% 0;transform:scaleX(0.9939);">06:58:38 PM</span>
<div style="left:2068.00px;top:643.00px;width:3.00px;height:28.00px;background:#dadfe5;"></div>
<span class="t" style="font-size:25.8px;color:#15181e;top:643.00px;left:1971.01px;transform-origin:100% 0;transform:scaleX(0.9843);">16 Dec</span>
<div style="left:14.00px;top:712.00px;width:2233.00px;height:128.00px;border:1px solid #e1e6eb;border-radius:8px;background:rgba(255,255,255,.2);"></div>
<div style="left:14.00px;top:712.00px;width:2233.00px;height:52.00px;background:#c8d9e0;border-radius:8px 8px 0 0;"></div>
<span class="t" style="font-size:24.6px;color:#15181e;top:725.00px;font-weight:700;left:30.60px;transform-origin:0 0;transform:scaleX(1.0469);">load-generator:</span>
<span class="t" style="font-size:24.6px;color:#15181e;top:725.00px;font-weight:700;left:235.70px;transform-origin:0 0;">user_checkout_single</span>
<span class="t" style="font-size:25.6px;color:#15181e;top:724.00px;left:2133.72px;transform-origin:100% 0;">47.81ms</span>
<div style="left:30.00px;top:779.00px;width:150.00px;height:39.00px;border:1px solid #d3dae1;border-radius:8px;"></div>
<div style="left:187.00px;top:779.00px;width:132.00px;height:39.00px;border:1px solid #f0908d;border-radius:8px;"></div>
<span class="t" style="font-size:24.8px;color:#575e6c;top:786.00px;left:46.10px;transform-origin:0 0;transform:scaleX(0.9870);">Spans : 18</span>
<span class="t" style="font-size:24.8px;color:#e5484d;top:786.00px;left:202.80px;transform-origin:0 0;transform:scaleX(0.9791);">Errors : 9</span>
<div style="left:375.00px;top:779.00px;width:218.00px;height:39.00px;border:1px solid #e4e8ed;border-radius:8px;background:rgba(255,255,255,.3);"></div>
<div style="left:375.00px;top:779.00px;width:25.00px;height:39.00px;background:#8a98c3;border-radius:8px 0 0 8px;"></div>
<span class="t" style="font-size:23.6px;color:#1b202b;top:787.00px;left:407.50px;transform-origin:0 0;transform:scaleX(0.9397);">frontend-proxy (2)</span>
<div style="left:624.00px;top:779.00px;width:227.00px;height:39.00px;border:1px solid #e4e8ed;border-radius:8px;background:rgba(255,255,255,.3);"></div>
<div style="left:624.00px;top:779.00px;width:25.00px;height:39.00px;background:#ffb22e;border-radius:8px 0 0 8px;"></div>
<span class="t" style="font-size:23.6px;color:#1b202b;top:787.00px;left:656.10px;transform-origin:0 0;transform:scaleX(0.9358);">product-catalog (1)</span>
<div style="left:881.00px;top:779.00px;width:155.00px;height:39.00px;border:1px solid #e4e8ed;border-radius:8px;background:rgba(255,255,255,.3);"></div>
<div style="left:881.00px;top:779.00px;width:25.00px;height:39.00px;background:#5ff72b;border-radius:8px 0 0 8px;"></div>
<span class="t" style="font-size:23.6px;color:#1b202b;top:787.00px;left:913.80px;transform-origin:0 0;transform:scaleX(0.8919);">currency (1)</span>
<div style="left:1066.00px;top:779.00px;width:218.00px;height:39.00px;border:1px solid #e4e8ed;border-radius:8px;background:rgba(255,255,255,.3);"></div>
<div style="left:1066.00px;top:779.00px;width:25.00px;height:39.00px;background:#fcc5a0;border-radius:8px 0 0 8px;"></div>
<span class="t" style="font-size:23.6px;color:#1b202b;top:787.00px;left:1098.40px;transform-origin:0 0;transform:scaleX(0.9337);">load-generator (2)</span>
<div style="left:1315.00px;top:779.00px;width:158.00px;height:39.00px;border:1px solid #e4e8ed;border-radius:8px;background:rgba(255,255,255,.3);"></div>
<div style="left:1315.00px;top:779.00px;width:25.00px;height:39.00px;background:#5ff72b;border-radius:8px 0 0 8px;"></div>
<span class="t" style="font-size:23.6px;color:#1b202b;top:787.00px;left:1347.10px;transform-origin:0 0;transform:scaleX(0.8921);">checkout (6)</span>
<div style="left:1503.00px;top:779.00px;width:109.00px;height:39.00px;border:1px solid #e4e8ed;border-radius:8px;background:rgba(255,255,255,.3);"></div>
<div style="left:1503.00px;top:779.00px;width:25.00px;height:39.00px;background:#ffb22e;border-radius:8px 0 0 8px;"></div>
<span class="t" style="font-size:23.6px;color:#1b202b;top:787.00px;left:1535.30px;transform-origin:0 0;transform:scaleX(0.8997);">cart (2)</span>
<div style="left:1642.00px;top:779.00px;width:155.00px;height:39.00px;border:1px solid #e4e8ed;border-radius:8px;background:rgba(255,255,255,.3);"></div>
<div style="left:1642.00px;top:779.00px;width:25.00px;height:39.00px;background:#ffe04a;border-radius:8px 0 0 8px;"></div>
<span class="t" style="font-size:23.6px;color:#1b202b;top:787.00px;left:1674.80px;transform-origin:0 0;transform:scaleX(0.9253);">frontend (4)</span>
<span class="t" style="font-size:25.8px;color:#15181e;top:784.00px;left:2085.61px;transform-origin:100% 0;transform:scaleX(0.9939);">08:27:01 PM</span>
<div style="left:2068.00px;top:783.00px;width:3.00px;height:29.00px;background:#dadfe5;"></div>
<span class="t" style="font-size:25.8px;color:#15181e;top:784.00px;left:1971.01px;transform-origin:100% 0;transform:scaleX(0.9843);">15 Dec</span>
<div style="left:14.00px;top:852.00px;width:2233.00px;height:129.00px;border:1px solid #e1e6eb;border-radius:8px;background:rgba(255,255,255,.2);"></div>
<div style="left:14.00px;top:852.00px;width:2233.00px;height:53.00px;background:#c8d9e0;border-radius:8px 8px 0 0;"></div>
<span class="t" style="font-size:24.6px;color:#15181e;top:866.00px;font-weight:700;left:30.60px;transform-origin:0 0;transform:scaleX(1.0469);">load-generator:</span>
<span class="t" style="font-size:24.6px;color:#15181e;top:866.00px;font-weight:700;left:235.70px;transform-origin:0 0;">user_checkout_single</span>
<span class="t" style="font-size:25.6px;color:#15181e;top:865.00px;left:2133.72px;transform-origin:100% 0;">51.02ms</span>
</div>
<div style="left:639.00px;top:681.00px;width:164.00px;height:38.00px;background:#3e4045;border-radius:3px;box-shadow:0 2px 10px rgba(40,60,80,.35);"></div>
<span class="t" style="font-size:22.4px;color:#fff;top:690.00px;left:652.90px;transform-origin:0 0;transform:scaleX(1.0439);">Include Term</span>
</div>
</body></html>
